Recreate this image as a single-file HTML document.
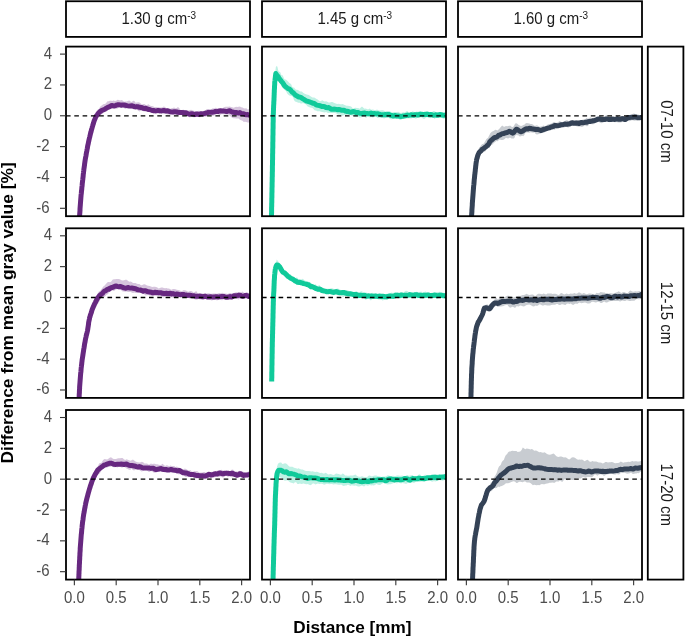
<!DOCTYPE html><html><head><meta charset="utf-8"><style>html,body{margin:0;padding:0;background:#fff;overflow:hidden}</style></head><body><svg width="685" height="637" viewBox="0 0 685 637" style="display:block;will-change:transform;font-family:'Liberation Sans', sans-serif"><rect width="685" height="637" fill="#fff"/><rect x="66.0" y="1.25" width="184.0" height="35.65" fill="#fff" stroke="#000" stroke-width="1.8"/><rect x="262.0" y="1.25" width="184.0" height="35.65" fill="#fff" stroke="#000" stroke-width="1.8"/><rect x="458.0" y="1.25" width="184.0" height="35.65" fill="#fff" stroke="#000" stroke-width="1.8"/><text x="0" y="0" font-size="15" text-anchor="middle" fill="#1a1a1a" transform="translate(158.80 23.7) scale(1 1.07)">1.30 g cm<tspan font-size="10" dy="-4.3">-3</tspan></text><text x="0" y="0" font-size="15" text-anchor="middle" fill="#1a1a1a" transform="translate(354.80 23.7) scale(1 1.07)">1.45 g cm<tspan font-size="10" dy="-4.3">-3</tspan></text><text x="0" y="0" font-size="15" text-anchor="middle" fill="#1a1a1a" transform="translate(550.80 23.7) scale(1 1.07)">1.60 g cm<tspan font-size="10" dy="-4.3">-3</tspan></text><rect x="647.8" y="46.6" width="35.6" height="169.6" fill="#fff" stroke="#000" stroke-width="1.8"/><text x="0" y="0" font-size="15" text-anchor="middle" fill="#1a1a1a" transform="translate(660.6 131.4) rotate(90) scale(1 1.07)">07-10 cm</text><rect x="647.8" y="228.3" width="35.6" height="169.6" fill="#fff" stroke="#000" stroke-width="1.8"/><text x="0" y="0" font-size="15" text-anchor="middle" fill="#1a1a1a" transform="translate(660.6 313.1) rotate(90) scale(1 1.07)">12-15 cm</text><rect x="647.8" y="410.0" width="35.6" height="169.6" fill="#fff" stroke="#000" stroke-width="1.8"/><text x="0" y="0" font-size="15" text-anchor="middle" fill="#1a1a1a" transform="translate(660.6 494.8) rotate(90) scale(1 1.07)">17-20 cm</text><rect x="66.0" y="46.6" width="184.0" height="169.6" fill="#fff"/><clipPath id="cp00"><rect x="66.0" y="46.6" width="184.0" height="169.6"/></clipPath><g clip-path="url(#cp00)"><path d="M79.3 215.0 L79.5 213.7 L79.6 212.4 L79.7 211.4 L79.8 210.5 L79.9 209.5 L80.0 208.2 L80.0 206.3 L80.1 204.9 L80.2 203.7 L80.3 202.5 L80.4 201.6 L80.5 200.1 L80.6 198.6 L80.7 197.1 L80.8 195.6 L80.9 193.9 L81.0 192.7 L81.1 192.2 L81.3 191.2 L81.4 189.8 L81.5 187.8 L81.7 186.8 L81.8 185.8 L81.9 183.9 L82.1 182.7 L82.2 181.9 L82.3 180.1 L82.5 178.6 L82.6 177.5 L82.8 175.8 L82.9 174.2 L83.1 173.5 L83.2 172.8 L83.3 171.3 L83.5 169.8 L83.6 169.4 L83.8 167.5 L83.9 165.4 L84.1 164.4 L84.3 163.5 L84.5 162.0 L84.6 160.5 L84.8 159.7 L85.0 158.8 L85.2 157.5 L85.4 155.7 L85.6 154.4 L85.9 152.9 L86.1 151.5 L86.3 150.0 L86.5 148.9 L86.8 148.4 L87.0 146.9 L87.3 144.9 L87.5 143.1 L87.7 141.8 L88.0 141.7 L88.3 140.6 L88.5 138.0 L88.8 136.8 L89.1 136.3 L89.4 134.9 L89.7 133.6 L90.0 132.2 L90.3 130.7 L90.6 129.1 L91.0 127.5 L91.3 127.1 L91.6 125.7 L92.0 123.7 L92.3 122.9 L92.7 122.1 L93.0 121.5 L93.4 119.6 L93.8 117.6 L94.2 117.5 L94.7 116.7 L95.2 114.6 L95.7 112.4 L96.4 111.2 L97.1 110.2 L97.9 109.5 L98.7 109.3 L99.7 107.6 L100.8 106.0 L101.8 105.5 L102.9 104.5 L104.0 104.1 L105.1 104.1 L106.3 102.7 L107.5 101.3 L108.7 101.2 L109.9 100.8 L111.1 100.7 L112.4 100.9 L113.6 100.5 L114.9 101.1 L116.2 100.8 L117.5 99.8 L118.8 99.9 L120.1 100.4 L121.4 99.9 L122.7 100.5 L124.0 101.7 L125.3 101.6 L126.6 101.6 L127.9 101.0 L129.2 100.5 L130.5 101.6 L131.8 102.1 L133.1 100.8 L134.4 101.0 L135.6 102.7 L136.9 102.6 L138.2 102.3 L139.5 102.6 L140.7 103.5 L142.0 104.4 L143.3 104.1 L144.6 103.9 L145.8 105.1 L147.1 104.9 L148.4 104.3 L149.6 105.2 L150.9 105.9 L152.1 106.0 L153.4 106.4 L154.7 107.3 L156.0 107.0 L157.3 107.2 L158.6 107.3 L159.9 107.4 L161.2 107.6 L162.5 107.2 L163.8 106.5 L165.1 107.1 L166.4 108.5 L167.7 108.5 L169.0 108.6 L170.3 108.7 L171.5 108.3 L172.8 107.9 L174.1 107.5 L175.4 108.3 L176.7 108.0 L178.0 107.1 L179.3 108.3 L180.6 110.2 L181.9 110.3 L183.2 109.4 L184.5 110.5 L185.8 110.6 L187.1 109.9 L188.4 110.5 L189.7 110.3 L191.0 109.7 L192.3 110.3 L193.6 110.8 L194.8 110.9 L196.1 111.4 L197.4 111.2 L198.7 110.7 L200.0 110.9 L201.3 111.8 L202.6 111.2 L203.9 110.8 L205.2 110.8 L206.5 109.2 L207.8 109.0 L209.0 109.9 L210.3 110.3 L211.6 109.1 L212.9 108.3 L214.2 108.4 L215.4 107.8 L216.7 107.9 L218.0 108.2 L219.3 108.3 L220.6 109.1 L221.9 109.1 L223.2 107.7 L224.5 107.1 L225.8 106.8 L227.1 106.8 L228.4 106.8 L229.7 106.5 L231.0 106.9 L232.2 107.3 L233.5 107.7 L234.8 107.3 L236.1 106.8 L237.4 107.1 L238.6 106.7 L239.9 106.6 L241.2 107.3 L242.5 107.6 L243.8 108.3 L245.0 108.6 L246.3 108.3 L247.6 109.4 L248.8 109.3 L250.1 109.1 L251.4 109.5 L252.0 109.5 L252.0 122.1 L251.4 122.4 L250.1 122.4 L248.8 122.4 L247.6 122.4 L246.3 122.0 L245.0 121.7 L243.8 122.0 L242.5 120.7 L241.2 120.2 L239.9 119.7 L238.6 118.6 L237.4 118.4 L236.1 118.5 L234.8 118.2 L233.5 118.2 L232.2 117.8 L231.0 116.7 L229.7 115.7 L228.4 114.6 L227.1 114.8 L225.8 114.4 L224.5 114.2 L223.2 114.3 L221.9 114.0 L220.6 114.8 L219.3 115.1 L218.0 114.3 L216.7 114.1 L215.4 115.0 L214.2 115.4 L212.9 115.9 L211.6 115.5 L210.3 114.9 L209.0 115.0 L207.8 115.4 L206.5 116.4 L205.2 116.8 L203.9 116.3 L202.6 115.9 L201.3 116.8 L200.0 117.2 L198.7 117.1 L197.4 116.9 L196.1 116.9 L194.8 117.3 L193.6 117.3 L192.3 117.1 L191.0 116.9 L189.7 117.5 L188.4 116.6 L187.1 115.4 L185.8 115.5 L184.5 115.9 L183.2 116.2 L181.9 115.2 L180.6 114.2 L179.3 114.8 L178.0 115.7 L176.7 114.9 L175.4 114.3 L174.1 114.6 L172.8 114.5 L171.5 114.7 L170.3 114.8 L169.0 114.5 L167.7 114.5 L166.4 114.1 L165.1 114.1 L163.8 113.3 L162.5 112.5 L161.2 113.6 L159.9 114.0 L158.6 113.4 L157.3 113.2 L156.0 112.9 L154.7 113.0 L153.4 113.8 L152.1 113.1 L150.9 112.3 L149.6 112.0 L148.4 111.2 L147.1 111.5 L145.8 111.8 L144.6 111.5 L143.3 111.2 L142.0 110.7 L140.7 110.8 L139.5 111.4 L138.2 110.7 L136.9 109.5 L135.6 108.9 L134.4 109.6 L133.1 109.3 L131.8 108.3 L130.5 108.3 L129.2 107.8 L127.9 107.6 L126.6 107.9 L125.3 108.9 L124.0 108.1 L122.7 106.9 L121.4 106.8 L120.1 106.9 L118.8 107.7 L117.5 108.6 L116.2 108.7 L114.9 107.8 L113.6 108.1 L112.4 108.5 L111.1 108.5 L109.9 109.5 L108.7 109.3 L107.5 110.2 L106.3 111.7 L105.1 111.1 L104.0 111.6 L102.9 113.3 L101.8 114.5 L100.8 114.2 L99.7 114.6 L98.7 116.5 L97.9 118.0 L97.1 118.4 L96.4 119.3 L95.7 120.6 L95.2 121.7 L94.7 122.7 L94.2 123.7 L93.8 124.9 L93.4 126.8 L93.0 128.1 L92.7 129.3 L92.3 131.0 L92.0 131.5 L91.6 132.4 L91.3 133.6 L91.0 135.1 L90.6 137.1 L90.3 137.4 L90.0 138.4 L89.7 139.9 L89.4 141.1 L89.1 142.8 L88.8 143.9 L88.5 145.0 L88.3 146.0 L88.0 147.3 L87.7 149.3 L87.5 150.8 L87.3 151.3 L87.0 151.7 L86.8 153.2 L86.5 155.1 L86.3 156.6 L86.1 157.7 L85.9 157.8 L85.6 159.9 L85.4 162.6 L85.2 162.9 L85.0 163.6 L84.8 165.1 L84.6 166.2 L84.5 167.3 L84.3 167.9 L84.1 169.8 L83.9 172.4 L83.8 173.6 L83.6 174.5 L83.5 175.7 L83.3 176.8 L83.2 178.8 L83.1 180.7 L82.9 181.0 L82.8 181.8 L82.6 183.4 L82.5 184.9 L82.3 186.3 L82.2 187.2 L82.1 188.4 L81.9 190.2 L81.8 191.3 L81.7 192.7 L81.5 193.8 L81.4 194.5 L81.3 195.8 L81.1 197.3 L81.0 198.3 L80.9 199.4 L80.8 200.8 L80.7 202.0 L80.6 203.8 L80.5 204.9 L80.4 205.8 L80.3 206.5 L80.2 208.3 L80.1 210.4 L80.0 211.4 L80.0 213.3 L79.9 214.7 L79.8 215.0 L79.7 216.0 L79.6 218.4 L79.5 220.5 L79.3 221.0Z" fill="#672880" fill-opacity="0.27"/><path d="M79.3 218.1 L79.5 216.9 L79.6 215.6 L79.7 214.3 L79.8 213.0 L79.9 211.7 L80.0 210.4 L80.0 209.1 L80.1 207.8 L80.2 206.5 L80.3 205.2 L80.4 203.9 L80.5 202.6 L80.6 201.3 L80.7 200.0 L80.8 198.7 L80.9 197.4 L81.0 196.2 L81.1 194.9 L81.3 193.5 L81.4 192.3 L81.5 191.0 L81.7 189.7 L81.8 188.4 L81.9 187.1 L82.1 185.8 L82.2 184.5 L82.3 183.2 L82.5 181.9 L82.6 180.7 L82.8 179.3 L82.9 178.1 L83.1 176.7 L83.2 175.4 L83.3 174.1 L83.5 172.8 L83.6 171.5 L83.8 170.3 L83.9 169.1 L84.1 167.8 L84.3 166.4 L84.5 165.2 L84.6 163.9 L84.8 162.6 L85.0 161.2 L85.2 159.9 L85.4 158.7 L85.6 157.5 L85.9 156.2 L86.1 154.9 L86.3 153.6 L86.5 152.4 L86.8 151.0 L87.0 149.8 L87.3 148.5 L87.5 147.2 L87.7 145.8 L88.0 144.6 L88.3 143.4 L88.5 142.2 L88.8 140.9 L89.1 139.5 L89.4 138.2 L89.7 137.1 L90.0 135.8 L90.3 134.4 L90.6 133.1 L91.0 131.9 L91.3 130.7 L91.6 129.4 L92.0 128.2 L92.3 127.0 L92.7 125.7 L93.0 124.6 L93.4 123.4 L93.8 122.1 L94.2 120.8 L94.7 119.6 L95.2 118.4 L95.7 117.0 L96.4 115.9 L97.1 115.1 L97.9 114.1 L98.7 112.9 L99.7 111.9 L100.8 111.2 L101.8 110.4 L102.9 110.0 L104.0 109.7 L105.1 109.0 L106.3 108.2 L107.5 107.6 L108.7 107.0 L109.9 106.4 L111.1 105.8 L112.4 105.5 L113.6 105.9 L114.9 105.9 L116.2 105.2 L117.5 104.8 L118.8 104.7 L120.1 104.9 L121.4 105.2 L122.7 104.9 L124.0 105.0 L125.3 105.3 L126.6 105.6 L127.9 105.9 L129.2 106.1 L130.5 106.1 L131.8 105.8 L133.1 106.1 L134.4 106.6 L135.6 106.9 L136.9 106.6 L138.2 106.8 L139.5 107.3 L140.7 107.5 L142.0 107.6 L143.3 108.3 L144.6 108.6 L145.8 108.3 L147.1 108.8 L148.4 109.4 L149.6 109.5 L150.9 110.0 L152.1 110.4 L153.4 110.5 L154.7 110.8 L156.0 110.9 L157.3 110.6 L158.6 110.6 L159.9 110.7 L161.2 110.9 L162.5 110.8 L163.8 110.4 L165.1 110.8 L166.4 111.1 L167.7 110.8 L169.0 111.3 L170.3 111.7 L171.5 111.9 L172.8 112.1 L174.1 111.8 L175.4 111.8 L176.7 112.0 L178.0 112.3 L179.3 112.4 L180.6 112.5 L181.9 112.4 L183.2 112.6 L184.5 112.7 L185.8 112.8 L187.1 113.5 L188.4 113.9 L189.7 114.2 L191.0 113.8 L192.3 113.7 L193.6 114.4 L194.8 114.6 L196.1 114.1 L197.4 114.0 L198.7 114.6 L200.0 114.1 L201.3 113.7 L202.6 114.1 L203.9 113.7 L205.2 113.3 L206.5 113.0 L207.8 112.5 L209.0 112.3 L210.3 112.3 L211.6 112.2 L212.9 112.2 L214.2 111.8 L215.4 111.4 L216.7 111.6 L218.0 111.6 L219.3 110.9 L220.6 110.8 L221.9 111.0 L223.2 110.9 L224.5 111.1 L225.8 111.4 L227.1 111.5 L228.4 111.0 L229.7 110.8 L231.0 111.5 L232.2 112.0 L233.5 112.3 L234.8 112.6 L236.1 112.5 L237.4 112.9 L238.6 113.1 L239.9 112.6 L241.2 113.5 L242.5 113.8 L243.8 113.7 L245.0 114.6 L246.3 114.8 L247.6 114.5 L248.8 115.0 L250.1 115.3 L251.4 114.9 L252.0 115.2" fill="none" stroke="#672880" stroke-width="5.0" stroke-linejoin="round" stroke-linecap="butt"/><line x1="66.0" x2="250.0" y1="115.78" y2="115.78" stroke="#000" stroke-width="1.3" stroke-dasharray="4.6 3.7"/></g><rect x="66.0" y="46.6" width="184.0" height="169.6" fill="none" stroke="#000" stroke-width="1.8"/><rect x="262.0" y="46.6" width="184.0" height="169.6" fill="#fff"/><clipPath id="cp01"><rect x="262.0" y="46.6" width="184.0" height="169.6"/></clipPath><g clip-path="url(#cp01)"><path d="M271.5 215.7 L271.5 214.2 L271.5 212.8 L271.5 211.9 L271.6 210.6 L271.6 208.5 L271.6 207.3 L271.6 206.6 L271.6 204.7 L271.7 203.8 L271.7 202.8 L271.7 201.2 L271.8 199.1 L271.8 198.2 L271.8 197.6 L271.8 195.7 L271.9 194.5 L271.9 192.8 L271.9 191.3 L271.9 190.8 L272.0 189.1 L272.0 187.1 L272.0 186.5 L272.0 185.4 L272.1 183.4 L272.1 182.5 L272.1 181.8 L272.1 180.1 L272.2 178.2 L272.2 177.7 L272.2 176.8 L272.2 174.4 L272.3 173.2 L272.3 173.4 L272.3 172.0 L272.3 169.8 L272.4 168.1 L272.4 167.0 L272.4 165.2 L272.4 163.9 L272.4 163.3 L272.5 161.4 L272.5 160.1 L272.5 160.2 L272.5 158.7 L272.6 156.3 L272.6 155.6 L272.6 153.9 L272.6 151.9 L272.6 151.3 L272.7 151.0 L272.7 150.2 L272.7 148.4 L272.7 146.6 L272.8 145.3 L272.8 144.8 L272.8 143.4 L272.8 141.6 L272.8 140.4 L272.9 137.7 L272.9 136.3 L272.9 135.5 L272.9 134.0 L272.9 132.8 L273.0 131.6 L273.0 130.6 L273.0 129.0 L273.0 128.1 L273.0 127.5 L273.1 125.5 L273.1 123.9 L273.1 122.0 L273.1 120.7 L273.1 120.2 L273.2 118.8 L273.2 118.1 L273.2 116.3 L273.2 114.6 L273.3 113.6 L273.3 112.5 L273.3 112.0 L273.4 110.4 L273.4 108.6 L273.5 107.1 L273.5 105.9 L273.6 103.8 L273.6 102.2 L273.7 102.4 L273.8 101.2 L273.8 98.9 L273.9 97.5 L274.0 97.1 L274.0 96.1 L274.1 94.1 L274.1 92.0 L274.2 91.3 L274.2 90.0 L274.3 88.7 L274.3 87.1 L274.4 85.6 L274.5 85.6 L274.5 84.3 L274.6 82.3 L274.7 80.4 L274.7 78.4 L274.8 76.8 L275.0 76.0 L275.1 74.5 L275.3 72.5 L275.4 70.6 L275.6 68.9 L275.8 67.3 L276.8 65.7 L277.5 67.0 L278.2 70.3 L278.9 71.8 L279.6 71.8 L280.4 72.6 L281.1 74.5 L281.9 75.4 L282.7 75.2 L283.5 77.3 L284.4 79.2 L285.3 79.4 L286.2 79.8 L287.2 80.8 L288.3 81.7 L289.3 83.0 L290.3 83.6 L291.3 84.5 L292.2 86.8 L293.1 87.4 L294.0 87.5 L295.0 88.8 L296.0 89.7 L297.2 89.8 L298.4 90.3 L299.6 91.3 L300.7 91.4 L301.9 91.5 L303.1 92.8 L304.2 93.6 L305.4 94.1 L306.6 94.6 L307.7 94.7 L308.9 95.0 L310.1 95.9 L311.3 96.7 L312.5 97.4 L313.7 97.6 L314.9 97.7 L316.1 98.7 L317.3 99.2 L318.5 100.2 L319.8 101.2 L321.0 100.9 L322.3 100.3 L323.5 100.9 L324.8 101.6 L326.1 101.2 L327.3 101.8 L328.6 102.4 L329.9 102.6 L331.2 102.1 L332.5 102.0 L333.8 102.8 L335.1 103.3 L336.3 103.8 L337.6 103.9 L338.9 103.8 L340.2 104.3 L341.5 104.3 L342.8 104.0 L344.0 104.7 L345.3 105.3 L346.6 105.8 L347.9 105.7 L349.2 106.1 L350.4 106.3 L351.7 107.1 L353.0 108.7 L354.3 108.1 L355.6 107.7 L356.9 108.0 L358.2 108.1 L359.5 108.7 L360.8 107.4 L362.0 106.6 L363.3 107.7 L364.6 108.7 L365.9 108.5 L367.2 109.3 L368.5 109.2 L369.8 108.6 L371.1 109.7 L372.4 109.6 L373.7 109.7 L375.0 110.2 L376.3 109.8 L377.6 109.7 L378.9 110.6 L380.2 110.6 L381.5 110.2 L382.8 110.2 L384.1 110.7 L385.4 111.5 L386.7 111.0 L388.0 110.9 L389.3 111.1 L390.6 111.7 L391.9 112.6 L393.1 112.2 L394.4 111.9 L395.7 112.1 L397.0 112.0 L398.3 111.8 L399.6 112.6 L400.9 113.1 L402.2 112.5 L403.5 112.3 L404.8 112.5 L406.1 111.6 L407.4 111.0 L408.6 112.4 L409.9 113.1 L411.2 112.4 L412.5 111.3 L413.8 111.8 L415.1 112.2 L416.4 111.4 L417.7 111.8 L419.0 111.5 L420.3 111.4 L421.6 112.3 L422.9 112.7 L424.2 111.5 L425.5 111.3 L426.8 111.3 L428.1 111.0 L429.4 112.3 L430.7 113.0 L432.0 112.2 L433.3 110.9 L434.6 111.2 L435.9 112.0 L437.2 112.1 L438.5 112.1 L439.8 112.0 L441.1 112.2 L442.4 112.4 L443.7 112.5 L445.0 112.5 L446.3 112.8 L447.6 112.8 L448.0 112.0 L448.0 118.7 L447.6 119.2 L446.3 118.4 L445.0 118.5 L443.7 118.8 L442.4 118.2 L441.1 117.7 L439.8 117.7 L438.5 117.9 L437.2 117.3 L435.9 117.8 L434.6 119.0 L433.3 117.6 L432.0 117.5 L430.7 118.3 L429.4 117.7 L428.1 117.4 L426.8 117.2 L425.5 118.1 L424.2 118.9 L422.9 118.4 L421.6 117.6 L420.3 117.5 L419.0 117.4 L417.7 117.4 L416.4 118.4 L415.1 118.5 L413.8 117.5 L412.5 118.0 L411.2 118.6 L409.9 118.4 L408.6 118.6 L407.4 118.4 L406.1 118.4 L404.8 118.8 L403.5 119.1 L402.2 119.0 L400.9 120.0 L399.6 119.7 L398.3 118.6 L397.0 118.9 L395.7 119.0 L394.4 119.1 L393.1 118.8 L391.9 119.2 L390.6 119.3 L389.3 118.3 L388.0 117.7 L386.7 117.5 L385.4 118.1 L384.1 118.5 L382.8 118.0 L381.5 118.0 L380.2 117.5 L378.9 117.8 L377.6 118.0 L376.3 117.1 L375.0 116.7 L373.7 117.3 L372.4 117.5 L371.1 117.1 L369.8 117.6 L368.5 116.6 L367.2 117.0 L365.9 117.9 L364.6 116.5 L363.3 116.7 L362.0 117.0 L360.8 117.6 L359.5 117.5 L358.2 116.9 L356.9 116.8 L355.6 116.7 L354.3 116.6 L353.0 116.1 L351.7 115.5 L350.4 115.1 L349.2 115.0 L347.9 115.2 L346.6 115.5 L345.3 115.2 L344.0 114.9 L342.8 115.7 L341.5 115.5 L340.2 114.5 L338.9 114.8 L337.6 114.2 L336.3 113.5 L335.1 113.1 L333.8 113.0 L332.5 112.9 L331.2 113.1 L329.9 112.7 L328.6 113.1 L327.3 112.8 L326.1 112.1 L324.8 112.6 L323.5 112.2 L322.3 111.9 L321.0 111.8 L319.8 111.3 L318.5 111.2 L317.3 111.2 L316.1 110.6 L314.9 110.6 L313.7 109.2 L312.5 107.9 L311.3 107.8 L310.1 107.4 L308.9 107.1 L307.7 106.6 L306.6 105.3 L305.4 104.1 L304.2 103.7 L303.1 103.1 L301.9 103.4 L300.7 103.4 L299.6 102.8 L298.4 102.7 L297.2 102.3 L296.0 101.7 L295.0 101.4 L294.0 100.0 L293.1 97.6 L292.2 96.2 L291.3 95.9 L290.3 95.8 L289.3 95.4 L288.3 94.7 L287.2 93.4 L286.2 91.5 L285.3 90.6 L284.4 89.8 L283.5 88.5 L282.7 87.9 L281.9 86.9 L281.1 85.5 L280.4 83.5 L279.6 82.5 L278.9 82.6 L278.2 80.7 L277.5 78.7 L276.8 77.5 L275.8 76.3 L275.6 77.9 L275.4 79.5 L275.3 80.4 L275.1 81.5 L275.0 83.3 L274.8 85.2 L274.7 86.3 L274.7 88.1 L274.6 89.4 L274.5 90.2 L274.5 90.9 L274.4 91.9 L274.3 94.1 L274.3 95.2 L274.2 96.4 L274.2 97.7 L274.1 98.1 L274.1 99.9 L274.0 101.6 L274.0 101.9 L273.9 102.5 L273.8 104.3 L273.8 105.8 L273.7 106.6 L273.6 107.6 L273.6 109.1 L273.5 111.1 L273.5 112.3 L273.4 113.1 L273.4 115.1 L273.3 116.3 L273.3 117.8 L273.3 119.3 L273.2 120.6 L273.2 122.2 L273.2 123.2 L273.2 124.8 L273.1 126.0 L273.1 127.1 L273.1 128.1 L273.1 129.2 L273.1 131.0 L273.0 132.4 L273.0 134.2 L273.0 136.4 L273.0 137.3 L273.0 137.9 L272.9 139.1 L272.9 140.4 L272.9 141.9 L272.9 143.6 L272.9 144.7 L272.8 144.8 L272.8 146.0 L272.8 147.8 L272.8 149.4 L272.8 150.4 L272.7 150.7 L272.7 152.7 L272.7 154.5 L272.7 155.2 L272.6 156.2 L272.6 158.2 L272.6 160.1 L272.6 161.2 L272.6 162.2 L272.5 162.9 L272.5 162.8 L272.5 164.5 L272.5 167.5 L272.4 169.0 L272.4 170.1 L272.4 172.1 L272.4 174.0 L272.4 174.0 L272.3 174.2 L272.3 176.3 L272.3 178.9 L272.3 180.0 L272.2 180.7 L272.2 181.7 L272.2 182.7 L272.2 183.9 L272.1 185.7 L272.1 187.6 L272.1 188.6 L272.1 190.2 L272.0 191.7 L272.0 191.9 L272.0 192.8 L272.0 195.5 L271.9 196.3 L271.9 196.9 L271.9 199.2 L271.9 200.8 L271.8 201.6 L271.8 202.9 L271.8 204.7 L271.8 205.9 L271.7 207.2 L271.7 208.4 L271.7 208.4 L271.6 209.2 L271.6 211.7 L271.6 213.7 L271.6 213.9 L271.6 215.4 L271.5 217.8 L271.5 218.0 L271.5 218.9 L271.5 220.7Z" fill="#10CA9A" fill-opacity="0.27"/><path d="M271.5 218.0 L271.5 216.7 L271.5 215.4 L271.5 214.1 L271.6 212.8 L271.6 211.5 L271.6 210.2 L271.6 208.9 L271.6 207.6 L271.7 206.3 L271.7 205.0 L271.7 203.7 L271.8 202.4 L271.8 201.1 L271.8 199.8 L271.8 198.5 L271.9 197.2 L271.9 195.9 L271.9 194.6 L271.9 193.3 L272.0 192.0 L272.0 190.7 L272.0 189.4 L272.0 188.1 L272.1 186.8 L272.1 185.5 L272.1 184.2 L272.1 182.9 L272.2 181.6 L272.2 180.3 L272.2 179.0 L272.2 177.7 L272.3 176.4 L272.3 175.1 L272.3 173.8 L272.3 172.5 L272.4 171.2 L272.4 169.9 L272.4 168.6 L272.4 167.3 L272.4 166.0 L272.5 164.7 L272.5 163.4 L272.5 162.1 L272.5 160.8 L272.6 159.5 L272.6 158.2 L272.6 156.9 L272.6 155.6 L272.6 154.3 L272.7 153.0 L272.7 151.7 L272.7 150.4 L272.7 149.1 L272.8 147.8 L272.8 146.5 L272.8 145.2 L272.8 143.9 L272.8 142.6 L272.9 141.3 L272.9 140.0 L272.9 138.7 L272.9 137.4 L272.9 136.1 L273.0 134.8 L273.0 133.5 L273.0 132.2 L273.0 130.9 L273.0 129.6 L273.1 128.3 L273.1 127.0 L273.1 125.7 L273.1 124.4 L273.1 123.1 L273.2 121.8 L273.2 120.5 L273.2 119.2 L273.2 117.9 L273.3 116.6 L273.3 115.3 L273.3 114.0 L273.4 112.7 L273.4 111.4 L273.5 110.1 L273.5 108.8 L273.6 107.5 L273.6 106.2 L273.7 104.9 L273.8 103.6 L273.8 102.3 L273.9 101.0 L274.0 99.7 L274.0 98.4 L274.1 97.1 L274.1 95.9 L274.2 94.6 L274.2 93.2 L274.3 92.0 L274.3 90.7 L274.4 89.3 L274.5 88.0 L274.5 86.8 L274.6 85.4 L274.7 84.1 L274.7 82.8 L274.8 81.6 L275.0 80.3 L275.1 78.9 L275.3 77.7 L275.4 76.5 L275.6 75.1 L275.8 73.6 L276.8 75.0 L277.5 75.9 L278.2 76.7 L278.9 78.0 L279.6 79.1 L280.4 79.9 L281.1 81.0 L281.9 81.9 L282.7 82.7 L283.5 84.0 L284.4 85.6 L285.3 86.5 L286.2 87.1 L287.2 87.9 L288.3 88.7 L289.3 89.0 L290.3 89.7 L291.3 91.0 L292.2 92.1 L293.1 92.7 L294.0 93.4 L295.0 94.7 L296.0 95.4 L297.2 96.0 L298.4 96.9 L299.6 97.0 L300.7 97.4 L301.9 98.2 L303.1 99.0 L304.2 99.5 L305.4 100.4 L306.6 101.1 L307.7 101.3 L308.9 101.7 L310.1 102.1 L311.3 102.5 L312.5 103.2 L313.7 103.3 L314.9 103.8 L316.1 104.8 L317.3 105.2 L318.5 105.4 L319.8 105.7 L321.0 106.1 L322.3 106.6 L323.5 106.5 L324.8 106.7 L326.1 107.6 L327.3 107.7 L328.6 107.6 L329.9 108.2 L331.2 109.2 L332.5 109.3 L333.8 109.1 L335.1 109.2 L336.3 109.4 L337.6 109.7 L338.9 109.5 L340.2 109.7 L341.5 110.3 L342.8 110.3 L344.0 110.3 L345.3 111.0 L346.6 111.4 L347.9 111.3 L349.2 111.8 L350.4 112.3 L351.7 112.0 L353.0 111.6 L354.3 111.7 L355.6 112.4 L356.9 112.5 L358.2 112.6 L359.5 113.2 L360.8 113.4 L362.0 113.5 L363.3 113.1 L364.6 112.9 L365.9 113.6 L367.2 113.5 L368.5 113.7 L369.8 113.6 L371.1 113.1 L372.4 113.9 L373.7 113.6 L375.0 113.6 L376.3 113.9 L377.6 113.7 L378.9 114.1 L380.2 114.5 L381.5 114.7 L382.8 114.8 L384.1 114.7 L385.4 114.5 L386.7 114.7 L388.0 114.5 L389.3 114.6 L390.6 115.3 L391.9 115.5 L393.1 116.0 L394.4 115.6 L395.7 115.6 L397.0 116.0 L398.3 115.9 L399.6 116.3 L400.9 116.4 L402.2 116.3 L403.5 116.0 L404.8 115.8 L406.1 115.5 L407.4 115.1 L408.6 115.4 L409.9 115.1 L411.2 114.8 L412.5 115.1 L413.8 115.2 L415.1 114.7 L416.4 114.7 L417.7 115.1 L419.0 114.8 L420.3 114.1 L421.6 114.3 L422.9 114.5 L424.2 114.4 L425.5 114.4 L426.8 114.3 L428.1 114.5 L429.4 114.7 L430.7 114.5 L432.0 114.7 L433.3 115.3 L434.6 115.1 L435.9 114.8 L437.2 115.3 L438.5 115.0 L439.8 114.4 L441.1 114.7 L442.4 115.0 L443.7 115.2 L445.0 115.3 L446.3 114.8 L447.6 115.0 L448.0 115.7" fill="none" stroke="#10CA9A" stroke-width="5.0" stroke-linejoin="round" stroke-linecap="butt"/><line x1="262.0" x2="446.0" y1="115.78" y2="115.78" stroke="#000" stroke-width="1.3" stroke-dasharray="4.6 3.7"/></g><rect x="262.0" y="46.6" width="184.0" height="169.6" fill="none" stroke="#000" stroke-width="1.8"/><rect x="458.0" y="46.6" width="184.0" height="169.6" fill="#fff"/><clipPath id="cp02"><rect x="458.0" y="46.6" width="184.0" height="169.6"/></clipPath><g clip-path="url(#cp02)"><path d="M471.5 214.9 L471.6 213.8 L471.6 212.5 L471.7 211.8 L471.8 210.7 L471.9 208.9 L471.9 207.3 L472.0 205.8 L472.1 205.4 L472.2 203.7 L472.3 202.3 L472.3 201.8 L472.4 200.6 L472.5 199.2 L472.6 197.8 L472.7 196.4 L472.8 194.4 L472.9 192.5 L473.0 191.0 L473.1 189.3 L473.2 188.3 L473.3 187.8 L473.4 187.2 L473.5 186.1 L473.6 184.3 L473.7 182.2 L473.9 181.2 L474.0 179.8 L474.1 177.6 L474.2 177.0 L474.3 176.5 L474.5 175.1 L474.6 174.0 L474.7 173.1 L474.9 171.7 L475.0 169.8 L475.2 169.2 L475.3 167.8 L475.4 164.9 L475.6 163.4 L475.7 162.1 L475.9 161.9 L476.0 161.7 L476.2 159.1 L476.4 157.1 L476.6 155.8 L476.9 154.5 L477.3 153.3 L477.6 152.3 L478.1 151.4 L478.6 149.1 L479.3 147.4 L480.3 146.4 L481.3 144.9 L482.3 143.9 L483.3 143.9 L484.2 142.8 L485.2 141.2 L486.2 139.2 L487.1 138.5 L488.1 137.7 L488.9 136.0 L489.6 134.7 L490.3 133.2 L491.0 132.5 L491.9 131.7 L492.9 131.3 L494.0 130.7 L495.2 129.7 L496.3 130.0 L497.5 130.4 L498.6 129.5 L499.8 128.2 L501.0 126.8 L502.2 125.5 L503.4 126.5 L504.7 126.7 L505.9 126.1 L507.1 126.2 L508.2 126.1 L509.4 125.8 L510.5 125.8 L511.5 126.8 L512.7 127.1 L513.8 126.2 L514.5 124.7 L515.3 123.4 L516.3 123.2 L517.6 123.9 L518.6 125.0 L519.7 125.5 L520.9 126.0 L522.1 125.8 L523.2 125.0 L524.3 124.7 L525.5 123.5 L526.8 123.0 L528.0 123.3 L529.3 123.6 L530.6 124.0 L531.9 124.0 L533.2 124.7 L534.4 125.7 L535.7 125.7 L536.9 125.2 L538.2 126.1 L539.5 126.8 L540.8 126.6 L542.1 126.3 L543.3 125.6 L544.5 125.9 L545.7 126.1 L547.0 125.1 L548.2 124.3 L549.5 124.1 L550.7 123.7 L552.0 123.3 L553.3 122.3 L554.5 122.1 L555.8 122.7 L557.1 122.7 L558.3 121.9 L559.6 121.1 L560.9 121.7 L562.2 122.3 L563.5 122.2 L564.7 121.2 L566.0 120.2 L567.3 120.2 L568.6 121.2 L569.9 121.7 L571.2 120.7 L572.5 120.1 L573.8 120.1 L575.1 120.2 L576.4 120.3 L577.7 120.1 L579.0 119.9 L580.3 120.5 L581.5 120.6 L582.8 119.6 L584.1 119.4 L585.4 119.1 L586.7 118.1 L588.0 118.7 L589.3 117.9 L590.6 117.3 L591.8 118.5 L593.1 117.8 L594.4 117.9 L595.6 117.6 L596.7 116.5 L598.0 116.5 L599.3 116.2 L600.6 116.2 L601.9 116.3 L603.2 116.7 L604.5 116.5 L605.8 115.5 L607.1 115.0 L608.4 115.7 L609.7 116.2 L611.0 116.1 L612.3 115.9 L613.6 116.5 L614.9 117.1 L616.2 116.6 L617.5 115.7 L618.8 116.4 L620.1 116.7 L621.4 116.0 L622.7 116.0 L624.0 116.0 L625.3 116.6 L626.5 115.6 L627.8 115.2 L629.1 115.3 L630.3 115.1 L631.6 114.8 L632.9 113.7 L634.2 113.6 L635.5 114.4 L636.8 114.7 L638.1 114.4 L639.4 115.1 L640.7 115.1 L642.0 114.4 L643.3 114.6 L644.0 114.4 L644.0 120.3 L643.3 119.7 L642.0 119.6 L640.7 119.8 L639.4 119.3 L638.1 120.0 L636.8 120.8 L635.5 120.6 L634.2 120.8 L632.9 120.2 L631.6 120.3 L630.3 120.9 L629.1 121.2 L627.8 120.6 L626.5 120.4 L625.3 121.6 L624.0 122.0 L622.7 121.7 L621.4 122.2 L620.1 122.5 L618.8 122.5 L617.5 122.2 L616.2 122.0 L614.9 122.3 L613.6 121.7 L612.3 121.7 L611.0 121.7 L609.7 122.2 L608.4 121.6 L607.1 121.1 L605.8 121.9 L604.5 121.7 L603.2 122.5 L601.9 123.3 L600.6 122.9 L599.3 122.3 L598.0 121.8 L596.7 121.8 L595.6 122.8 L594.4 123.9 L593.1 124.2 L591.8 124.2 L590.6 123.4 L589.3 123.7 L588.0 126.0 L586.7 126.2 L585.4 125.5 L584.1 125.7 L582.8 126.7 L581.5 126.9 L580.3 126.4 L579.0 126.8 L577.7 126.5 L576.4 126.3 L575.1 125.3 L573.8 125.0 L572.5 126.0 L571.2 126.1 L569.9 126.7 L568.6 127.5 L567.3 127.3 L566.0 126.6 L564.7 127.2 L563.5 127.4 L562.2 126.9 L560.9 127.6 L559.6 127.1 L558.3 127.3 L557.1 128.5 L555.8 129.1 L554.5 129.7 L553.3 129.6 L552.0 129.6 L550.7 129.8 L549.5 130.0 L548.2 130.6 L547.0 130.9 L545.7 131.3 L544.5 132.6 L543.3 133.0 L542.1 132.8 L540.8 133.4 L539.5 133.8 L538.2 134.3 L536.9 134.6 L535.7 133.9 L534.4 132.3 L533.2 132.7 L531.9 132.6 L530.6 132.3 L529.3 132.7 L528.0 132.4 L526.8 132.5 L525.5 132.7 L524.3 134.9 L523.2 136.3 L522.1 135.8 L520.9 136.3 L519.7 136.4 L518.6 135.4 L517.6 135.3 L516.3 134.9 L515.3 135.6 L514.5 137.8 L513.8 138.5 L512.7 138.6 L511.5 138.4 L510.5 137.8 L509.4 137.8 L508.2 138.5 L507.1 138.3 L505.9 137.8 L504.7 139.0 L503.4 139.7 L502.2 139.9 L501.0 139.9 L499.8 139.5 L498.6 140.3 L497.5 141.2 L496.3 141.1 L495.2 141.9 L494.0 142.7 L492.9 143.9 L491.9 145.0 L491.0 144.4 L490.3 146.1 L489.6 147.9 L488.9 148.0 L488.1 148.5 L487.1 148.9 L486.2 149.8 L485.2 151.5 L484.2 151.8 L483.3 152.3 L482.3 153.0 L481.3 153.5 L480.3 154.2 L479.3 154.7 L478.6 155.3 L478.1 157.0 L477.6 159.3 L477.3 160.3 L476.9 161.5 L476.6 163.0 L476.4 164.0 L476.2 165.3 L476.0 166.5 L475.9 167.5 L475.7 168.4 L475.6 170.1 L475.4 171.5 L475.3 172.8 L475.2 174.7 L475.0 176.0 L474.9 177.0 L474.7 178.1 L474.6 178.6 L474.5 180.2 L474.3 182.2 L474.2 183.2 L474.1 184.8 L474.0 185.4 L473.9 186.6 L473.7 188.8 L473.6 189.9 L473.5 190.7 L473.4 191.8 L473.3 193.4 L473.2 194.8 L473.1 196.5 L473.0 197.0 L472.9 197.6 L472.8 200.0 L472.7 201.4 L472.6 202.4 L472.5 204.2 L472.4 205.4 L472.3 206.5 L472.3 207.4 L472.2 207.9 L472.1 210.1 L472.0 212.1 L471.9 213.8 L471.9 215.0 L471.8 215.4 L471.7 216.5 L471.6 218.0 L471.6 219.6 L471.5 220.9Z" fill="#344256" fill-opacity="0.27"/><path d="M471.5 218.0 L471.6 216.7 L471.6 215.4 L471.7 214.1 L471.8 212.8 L471.9 211.5 L471.9 210.2 L472.0 208.9 L472.1 207.6 L472.2 206.3 L472.3 205.1 L472.3 203.8 L472.4 202.5 L472.5 201.2 L472.6 199.9 L472.7 198.6 L472.8 197.3 L472.9 196.0 L473.0 194.7 L473.1 193.4 L473.2 192.1 L473.3 190.8 L473.4 189.5 L473.5 188.2 L473.6 186.9 L473.7 185.6 L473.9 184.3 L474.0 183.0 L474.1 181.7 L474.2 180.4 L474.3 179.1 L474.5 177.9 L474.6 176.5 L474.7 175.2 L474.9 173.9 L475.0 172.7 L475.2 171.4 L475.3 170.1 L475.4 168.9 L475.6 167.6 L475.7 166.2 L475.9 164.9 L476.0 163.6 L476.2 162.3 L476.4 161.1 L476.6 159.7 L476.9 158.6 L477.3 157.4 L477.6 156.0 L478.1 154.8 L478.6 153.6 L479.3 152.3 L480.3 151.4 L481.3 150.4 L482.3 149.2 L483.3 148.7 L484.2 148.1 L485.2 147.2 L486.2 146.5 L487.1 145.6 L488.1 144.9 L488.9 143.8 L489.6 142.1 L490.3 141.2 L491.0 140.5 L491.9 139.8 L492.9 138.9 L494.0 137.9 L495.2 137.4 L496.3 137.3 L497.5 136.4 L498.6 135.3 L499.8 135.1 L501.0 134.3 L502.2 133.8 L503.4 133.6 L504.7 133.1 L505.9 132.7 L507.1 132.5 L508.2 131.9 L509.4 131.3 L510.5 131.6 L511.5 132.5 L512.7 133.2 L513.8 132.5 L514.5 131.4 L515.3 130.5 L516.3 129.2 L517.6 129.6 L518.6 130.5 L519.7 131.2 L520.9 131.7 L522.1 131.4 L523.2 130.7 L524.3 129.8 L525.5 129.0 L526.8 128.8 L528.0 128.9 L529.3 128.3 L530.6 128.5 L531.9 128.8 L533.2 128.9 L534.4 129.2 L535.7 129.5 L536.9 129.5 L538.2 129.5 L539.5 130.0 L540.8 130.5 L542.1 130.1 L543.3 129.5 L544.5 129.2 L545.7 128.9 L547.0 128.4 L548.2 128.0 L549.5 127.8 L550.7 127.1 L552.0 126.8 L553.3 126.4 L554.5 125.5 L555.8 125.6 L557.1 125.7 L558.3 125.7 L559.6 125.3 L560.9 124.8 L562.2 124.8 L563.5 124.4 L564.7 124.0 L566.0 124.2 L567.3 124.2 L568.6 123.9 L569.9 123.8 L571.2 123.0 L572.5 122.8 L573.8 123.3 L575.1 123.3 L576.4 122.9 L577.7 123.3 L579.0 123.5 L580.3 122.8 L581.5 122.4 L582.8 122.8 L584.1 122.6 L585.4 122.3 L586.7 122.3 L588.0 121.6 L589.3 121.4 L590.6 121.4 L591.8 121.1 L593.1 120.8 L594.4 120.6 L595.6 120.2 L596.7 119.7 L598.0 119.2 L599.3 118.9 L600.6 119.3 L601.9 119.6 L603.2 119.6 L604.5 119.5 L605.8 119.1 L607.1 119.1 L608.4 119.4 L609.7 119.4 L611.0 119.4 L612.3 119.3 L613.6 119.3 L614.9 119.4 L616.2 119.1 L617.5 118.8 L618.8 119.3 L620.1 119.3 L621.4 118.8 L622.7 118.6 L624.0 119.1 L625.3 119.6 L626.5 118.7 L627.8 117.7 L629.1 117.4 L630.3 117.4 L631.6 117.2 L632.9 117.3 L634.2 117.1 L635.5 117.0 L636.8 117.4 L638.1 117.7 L639.4 117.8 L640.7 117.6 L642.0 117.5 L643.3 117.7 L644.0 117.4" fill="none" stroke="#344256" stroke-width="5.0" stroke-linejoin="round" stroke-linecap="butt"/><line x1="458.0" x2="642.0" y1="115.78" y2="115.78" stroke="#000" stroke-width="1.3" stroke-dasharray="4.6 3.7"/></g><rect x="458.0" y="46.6" width="184.0" height="169.6" fill="none" stroke="#000" stroke-width="1.8"/><rect x="66.0" y="228.3" width="184.0" height="169.6" fill="#fff"/><clipPath id="cp10"><rect x="66.0" y="228.3" width="184.0" height="169.6"/></clipPath><g clip-path="url(#cp10)"><path d="M79.0 396.6 L79.0 396.2 L79.1 395.6 L79.2 393.2 L79.2 391.5 L79.3 391.3 L79.4 390.7 L79.4 388.6 L79.5 387.3 L79.6 385.9 L79.6 384.4 L79.7 382.9 L79.8 382.2 L79.9 381.5 L80.0 379.0 L80.1 378.0 L80.2 377.0 L80.3 375.6 L80.4 374.7 L80.5 372.6 L80.6 370.7 L80.7 369.6 L80.9 369.2 L81.0 368.1 L81.1 366.2 L81.2 364.7 L81.4 363.0 L81.5 363.0 L81.7 362.3 L81.8 360.1 L82.0 358.4 L82.1 357.4 L82.3 356.5 L82.5 355.0 L82.7 353.3 L82.9 351.3 L83.1 350.4 L83.3 349.7 L83.5 348.5 L83.7 346.5 L83.9 345.3 L84.1 344.7 L84.3 342.5 L84.5 341.8 L84.7 341.5 L85.0 339.5 L85.2 338.0 L85.4 336.4 L85.7 335.1 L86.0 334.9 L86.2 333.7 L86.6 332.0 L86.9 331.2 L87.2 329.8 L87.5 327.6 L87.7 327.1 L87.9 326.1 L88.1 324.3 L88.3 322.3 L88.5 320.8 L88.6 320.0 L88.8 319.0 L89.1 317.3 L89.4 315.4 L89.6 315.2 L90.0 313.9 L90.3 311.6 L90.7 310.5 L91.1 309.2 L91.5 307.7 L91.9 307.4 L92.3 306.6 L92.8 304.6 L93.3 303.1 L93.8 302.3 L94.3 301.4 L94.9 300.3 L95.5 299.3 L96.0 297.4 L96.6 295.4 L97.2 294.6 L98.0 293.0 L98.8 291.5 L99.7 291.2 L100.6 290.3 L101.6 289.0 L102.6 287.4 L103.6 286.3 L104.7 285.4 L105.7 284.2 L106.8 283.0 L107.9 282.0 L109.0 282.0 L110.1 282.3 L111.3 281.6 L112.5 279.7 L113.8 279.2 L115.0 279.3 L116.3 279.0 L117.6 279.1 L118.9 279.1 L120.2 279.6 L121.5 280.2 L122.7 280.4 L124.0 280.3 L125.3 279.7 L126.6 279.7 L127.9 280.8 L129.2 281.7 L130.4 281.6 L131.7 281.9 L133.0 282.9 L134.3 283.0 L135.6 283.0 L136.9 283.8 L138.1 283.9 L139.4 283.9 L140.7 284.9 L141.9 285.2 L143.2 284.5 L144.5 284.3 L145.8 284.7 L147.0 285.4 L148.3 285.8 L149.6 286.1 L150.9 286.4 L152.2 286.9 L153.5 286.7 L154.8 286.8 L156.1 286.9 L157.4 287.6 L158.6 288.6 L159.9 288.0 L161.2 287.6 L162.5 287.4 L163.8 288.1 L165.1 288.2 L166.4 287.9 L167.7 288.4 L169.0 288.5 L170.3 289.2 L171.6 289.8 L172.9 289.1 L174.2 289.1 L175.5 289.3 L176.8 289.8 L178.1 290.1 L179.4 290.3 L180.7 291.0 L182.0 291.2 L183.3 290.3 L184.6 290.2 L185.9 290.6 L187.2 291.2 L188.5 291.8 L189.8 291.1 L191.1 291.1 L192.3 291.5 L193.6 292.7 L194.9 291.9 L196.2 291.1 L197.5 293.0 L198.8 293.4 L200.1 293.4 L201.4 293.2 L202.7 293.4 L204.0 293.5 L205.3 293.0 L206.6 293.4 L207.9 293.3 L209.2 293.2 L210.5 293.7 L211.8 293.8 L213.1 293.5 L214.4 293.6 L215.7 293.6 L217.0 293.7 L218.3 293.3 L219.6 293.1 L220.9 293.2 L222.2 292.8 L223.5 293.2 L224.8 293.4 L226.1 293.4 L227.4 294.0 L228.7 293.4 L230.0 292.9 L231.3 293.3 L232.6 293.7 L233.8 293.3 L235.1 292.4 L236.3 292.3 L237.6 292.4 L238.9 292.1 L240.2 292.8 L241.5 292.3 L242.8 291.4 L244.1 293.0 L245.4 292.8 L246.7 291.9 L248.0 292.8 L249.3 293.6 L250.6 293.4 L251.9 293.3 L252.0 293.2 L252.0 298.9 L251.9 299.2 L250.6 298.1 L249.3 298.1 L248.0 298.9 L246.7 298.5 L245.4 298.2 L244.1 298.1 L242.8 298.8 L241.5 298.4 L240.2 298.2 L238.9 299.6 L237.6 299.3 L236.3 298.3 L235.1 298.1 L233.8 298.8 L232.6 299.6 L231.3 299.5 L230.0 299.6 L228.7 299.1 L227.4 299.1 L226.1 299.8 L224.8 298.7 L223.5 299.1 L222.2 300.2 L220.9 299.9 L219.6 299.2 L218.3 299.7 L217.0 300.6 L215.7 299.8 L214.4 299.7 L213.1 300.1 L211.8 300.4 L210.5 300.0 L209.2 299.3 L207.9 299.2 L206.6 299.2 L205.3 299.0 L204.0 299.7 L202.7 299.4 L201.4 299.6 L200.1 299.6 L198.8 298.9 L197.5 299.5 L196.2 299.7 L194.9 299.5 L193.6 298.2 L192.3 297.1 L191.1 297.9 L189.8 298.6 L188.5 298.0 L187.2 297.1 L185.9 297.8 L184.6 297.6 L183.3 296.9 L182.0 296.8 L180.7 297.2 L179.4 297.0 L178.1 296.3 L176.8 297.5 L175.5 298.1 L174.2 297.9 L172.9 297.4 L171.6 297.2 L170.3 297.2 L169.0 297.6 L167.7 297.6 L166.4 296.7 L165.1 296.8 L163.8 297.4 L162.5 297.2 L161.2 296.2 L159.9 295.5 L158.6 296.3 L157.4 296.3 L156.1 296.0 L154.8 295.7 L153.5 295.8 L152.2 296.2 L150.9 295.8 L149.6 295.4 L148.3 295.0 L147.0 295.3 L145.8 295.4 L144.5 294.6 L143.2 293.6 L141.9 293.5 L140.7 292.9 L139.4 292.4 L138.1 292.8 L136.9 293.1 L135.6 293.1 L134.3 292.6 L133.0 293.0 L131.7 292.6 L130.4 291.8 L129.2 291.9 L127.9 292.0 L126.6 291.6 L125.3 291.7 L124.0 291.6 L122.7 291.5 L121.5 290.6 L120.2 289.6 L118.9 289.6 L117.6 289.1 L116.3 289.3 L115.0 290.3 L113.8 291.0 L112.5 290.5 L111.3 291.0 L110.1 291.1 L109.0 292.6 L107.9 294.3 L106.8 294.5 L105.7 295.8 L104.7 296.8 L103.6 297.7 L102.6 297.9 L101.6 297.4 L100.6 298.8 L99.7 301.0 L98.8 302.1 L98.0 303.8 L97.2 304.8 L96.6 305.7 L96.0 306.7 L95.5 307.3 L94.9 308.9 L94.3 309.7 L93.8 311.2 L93.3 312.8 L92.8 312.9 L92.3 313.5 L91.9 314.3 L91.5 315.9 L91.1 316.9 L90.7 317.7 L90.3 318.9 L90.0 320.4 L89.6 321.4 L89.4 321.9 L89.1 323.7 L88.8 325.8 L88.6 326.9 L88.5 327.7 L88.3 329.2 L88.1 330.0 L87.9 331.2 L87.7 333.0 L87.5 333.4 L87.2 334.8 L86.9 336.9 L86.6 337.7 L86.2 339.2 L86.0 340.1 L85.7 340.7 L85.4 343.5 L85.2 344.6 L85.0 344.9 L84.7 346.7 L84.5 348.2 L84.3 349.9 L84.1 351.5 L83.9 352.9 L83.7 353.6 L83.5 354.1 L83.3 355.1 L83.1 356.2 L82.9 358.6 L82.7 359.5 L82.5 360.6 L82.3 363.8 L82.1 363.8 L82.0 363.2 L81.8 365.1 L81.7 367.3 L81.5 368.3 L81.4 369.3 L81.2 370.8 L81.1 371.8 L81.0 372.5 L80.9 373.9 L80.7 376.1 L80.6 377.2 L80.5 378.1 L80.4 380.0 L80.3 380.8 L80.2 381.7 L80.1 383.2 L80.0 384.3 L79.9 385.9 L79.8 387.7 L79.7 389.3 L79.6 390.2 L79.6 390.6 L79.5 392.5 L79.4 393.9 L79.4 395.1 L79.3 397.4 L79.2 399.2 L79.2 399.7 L79.1 399.8 L79.0 401.7 L79.0 403.3Z" fill="#672880" fill-opacity="0.27"/><path d="M79.0 400.0 L79.0 399.0 L79.1 397.7 L79.2 396.4 L79.2 395.1 L79.3 393.8 L79.4 392.5 L79.4 391.2 L79.5 389.9 L79.6 388.6 L79.6 387.3 L79.7 386.0 L79.8 384.7 L79.9 383.4 L80.0 382.1 L80.1 380.8 L80.2 379.5 L80.3 378.2 L80.4 376.9 L80.5 375.6 L80.6 374.3 L80.7 373.0 L80.9 371.8 L81.0 370.5 L81.1 369.1 L81.2 367.9 L81.4 366.5 L81.5 365.3 L81.7 364.0 L81.8 362.7 L82.0 361.4 L82.1 360.1 L82.3 358.8 L82.5 357.6 L82.7 356.3 L82.9 355.0 L83.1 353.7 L83.3 352.4 L83.5 351.1 L83.7 349.7 L83.9 348.4 L84.1 347.4 L84.3 346.1 L84.5 344.7 L84.7 343.4 L85.0 342.2 L85.2 340.9 L85.4 339.6 L85.7 338.3 L86.0 337.0 L86.2 335.8 L86.6 334.5 L86.9 333.2 L87.2 332.0 L87.5 330.7 L87.7 329.5 L87.9 328.2 L88.1 326.9 L88.3 325.6 L88.5 324.2 L88.6 323.0 L88.8 321.7 L89.1 320.4 L89.4 319.0 L89.6 317.7 L90.0 316.6 L90.3 315.4 L90.7 314.2 L91.1 313.1 L91.5 311.9 L91.9 310.4 L92.3 309.2 L92.8 308.0 L93.3 306.9 L93.8 305.7 L94.3 304.5 L94.9 303.2 L95.5 302.2 L96.0 301.2 L96.6 299.9 L97.2 298.6 L98.0 297.6 L98.8 296.7 L99.7 295.4 L100.6 294.7 L101.6 293.9 L102.6 293.3 L103.6 291.9 L104.7 291.0 L105.7 290.8 L106.8 289.7 L107.9 289.1 L109.0 289.2 L110.1 288.3 L111.3 287.4 L112.5 287.4 L113.8 286.9 L115.0 286.2 L116.3 285.9 L117.6 286.6 L118.9 286.7 L120.2 286.5 L121.5 286.9 L122.7 287.3 L124.0 287.8 L125.3 288.2 L126.6 288.0 L127.9 287.5 L129.2 287.9 L130.4 288.1 L131.7 287.9 L133.0 288.3 L134.3 288.5 L135.6 288.7 L136.9 289.4 L138.1 289.9 L139.4 290.1 L140.7 290.1 L141.9 290.6 L143.2 291.2 L144.5 290.7 L145.8 290.7 L147.0 291.6 L148.3 291.8 L149.6 292.0 L150.9 292.2 L152.2 292.7 L153.5 292.8 L154.8 292.2 L156.1 292.5 L157.4 292.6 L158.6 292.7 L159.9 292.8 L161.2 292.8 L162.5 293.3 L163.8 293.6 L165.1 293.6 L166.4 293.3 L167.7 293.6 L169.0 293.6 L170.3 293.3 L171.6 293.9 L172.9 293.6 L174.2 294.1 L175.5 294.4 L176.8 294.0 L178.1 294.2 L179.4 294.6 L180.7 294.8 L182.0 294.5 L183.3 294.5 L184.6 294.8 L185.9 295.0 L187.2 295.4 L188.5 295.3 L189.8 295.3 L191.1 295.6 L192.3 295.7 L193.6 295.7 L194.9 296.1 L196.2 296.3 L197.5 296.2 L198.8 296.2 L200.1 296.1 L201.4 296.4 L202.7 296.8 L204.0 296.5 L205.3 296.3 L206.6 296.7 L207.9 297.0 L209.2 297.0 L210.5 296.7 L211.8 296.9 L213.1 297.1 L214.4 297.0 L215.7 296.8 L217.0 296.8 L218.3 296.9 L219.6 296.8 L220.9 296.6 L222.2 296.5 L223.5 296.4 L224.8 296.9 L226.1 297.2 L227.4 297.3 L228.7 297.0 L230.0 296.5 L231.3 297.1 L232.6 296.7 L233.8 295.8 L235.1 295.8 L236.3 295.8 L237.6 295.6 L238.9 295.2 L240.2 295.2 L241.5 295.9 L242.8 296.2 L244.1 295.9 L245.4 295.5 L246.7 295.5 L248.0 296.1 L249.3 296.6 L250.6 295.9 L251.9 295.5 L252.0 295.9" fill="none" stroke="#672880" stroke-width="5.0" stroke-linejoin="round" stroke-linecap="butt"/><line x1="66.0" x2="250.0" y1="297.48" y2="297.48" stroke="#000" stroke-width="1.3" stroke-dasharray="4.6 3.7"/></g><rect x="66.0" y="228.3" width="184.0" height="169.6" fill="none" stroke="#000" stroke-width="1.8"/><rect x="262.0" y="228.3" width="184.0" height="169.6" fill="#fff"/><clipPath id="cp11"><rect x="262.0" y="228.3" width="184.0" height="169.6"/></clipPath><g clip-path="url(#cp11)"><path d="M271.7 379.0 L271.7 378.3 L271.7 376.3 L271.8 373.9 L271.8 372.9 L271.8 372.0 L271.8 371.0 L271.8 370.4 L271.9 369.2 L271.9 367.6 L271.9 365.7 L271.9 364.5 L271.9 363.3 L272.0 361.5 L272.0 360.3 L272.0 359.5 L272.0 359.4 L272.0 357.9 L272.1 356.0 L272.1 354.4 L272.1 352.8 L272.1 352.1 L272.2 350.6 L272.2 348.6 L272.2 347.8 L272.2 346.7 L272.2 345.5 L272.3 343.8 L272.3 341.6 L272.3 340.7 L272.3 339.7 L272.4 338.4 L272.4 337.6 L272.4 336.5 L272.5 335.5 L272.5 334.3 L272.5 331.8 L272.6 329.6 L272.6 328.9 L272.6 328.4 L272.7 327.1 L272.7 325.6 L272.7 325.2 L272.8 324.7 L272.8 322.1 L272.8 320.1 L272.9 319.9 L272.9 318.3 L272.9 317.2 L273.0 316.9 L273.0 314.2 L273.0 312.2 L273.0 312.4 L273.1 311.1 L273.1 309.2 L273.1 308.4 L273.2 307.1 L273.2 305.2 L273.2 304.3 L273.3 303.2 L273.3 301.0 L273.3 300.0 L273.4 298.7 L273.4 297.0 L273.5 295.7 L273.5 294.1 L273.6 293.4 L273.6 292.1 L273.7 290.4 L273.8 290.0 L273.9 289.2 L273.9 287.7 L274.0 285.6 L274.0 284.4 L274.1 283.3 L274.1 282.3 L274.2 280.7 L274.2 279.0 L274.3 278.5 L274.4 277.1 L274.5 275.1 L274.5 273.3 L274.6 272.8 L274.8 271.5 L274.9 269.7 L275.1 268.8 L275.2 267.3 L275.5 265.2 L275.7 263.5 L276.1 261.7 L276.8 259.6 L278.0 261.2 L279.0 262.6 L279.8 263.6 L280.5 265.3 L281.2 266.5 L281.8 267.1 L282.7 268.3 L283.6 270.2 L284.5 271.3 L285.5 271.4 L286.6 271.2 L287.6 272.9 L288.6 274.3 L289.7 274.1 L290.7 274.3 L291.8 276.6 L292.9 277.9 L294.0 277.0 L295.1 278.3 L296.3 277.6 L297.5 277.8 L298.6 279.4 L299.9 279.3 L301.2 279.5 L302.5 278.8 L303.7 279.5 L305.0 280.8 L306.2 280.9 L307.4 281.2 L308.6 281.7 L309.8 282.0 L311.0 282.8 L312.2 283.9 L313.4 285.1 L314.6 284.8 L315.8 284.3 L317.0 285.9 L318.2 285.8 L319.5 285.1 L320.7 287.0 L321.9 287.8 L323.1 287.7 L324.4 288.6 L325.7 289.3 L327.0 288.7 L328.3 288.8 L329.6 288.8 L330.9 288.3 L332.2 288.2 L333.5 288.7 L334.8 289.5 L336.1 289.0 L337.4 288.6 L338.6 288.7 L339.9 289.4 L341.2 290.2 L342.5 290.7 L343.8 290.9 L345.1 290.6 L346.4 290.3 L347.7 289.9 L349.0 290.9 L350.3 291.9 L351.5 291.5 L352.8 291.4 L354.1 292.0 L355.4 291.4 L356.7 291.2 L358.0 292.2 L359.3 292.3 L360.6 291.5 L361.9 291.3 L363.2 292.3 L364.5 292.9 L365.7 292.4 L367.0 292.7 L368.3 294.0 L369.6 294.1 L370.9 293.3 L372.2 292.8 L373.5 293.3 L374.8 293.0 L376.1 293.3 L377.4 294.3 L378.7 293.8 L380.0 294.0 L381.3 294.6 L382.6 294.3 L383.9 294.4 L385.2 294.4 L386.5 293.7 L387.8 293.7 L389.1 293.8 L390.4 293.0 L391.7 292.6 L393.0 293.0 L394.3 292.4 L395.6 292.3 L396.9 292.4 L398.2 292.1 L399.5 292.8 L400.8 292.5 L402.1 292.3 L403.4 292.7 L404.7 291.5 L406.0 290.7 L407.3 290.9 L408.6 292.0 L409.9 292.9 L411.2 292.8 L412.5 292.6 L413.8 292.5 L415.1 292.2 L416.4 291.8 L417.7 292.0 L419.0 292.0 L420.3 291.7 L421.6 291.7 L422.9 292.3 L424.2 291.9 L425.5 291.6 L426.8 292.5 L428.1 292.6 L429.4 292.9 L430.7 293.1 L432.0 292.8 L433.3 292.2 L434.6 292.4 L435.9 292.8 L437.1 292.1 L438.4 291.9 L439.7 291.8 L441.0 292.0 L442.3 292.5 L443.6 292.7 L444.9 293.1 L446.2 293.9 L447.5 293.1 L448.0 291.9 L448.0 299.0 L447.5 299.6 L446.2 298.8 L444.9 297.5 L443.6 297.1 L442.3 297.6 L441.0 297.7 L439.7 296.6 L438.4 296.6 L437.1 297.6 L435.9 297.7 L434.6 297.0 L433.3 296.8 L432.0 298.5 L430.7 298.9 L429.4 297.5 L428.1 297.0 L426.8 297.8 L425.5 298.2 L424.2 296.8 L422.9 297.0 L421.6 298.4 L420.3 298.3 L419.0 297.8 L417.7 298.3 L416.4 298.1 L415.1 297.2 L413.8 296.7 L412.5 297.0 L411.2 297.6 L409.9 297.0 L408.6 296.5 L407.3 296.8 L406.0 297.6 L404.7 297.7 L403.4 297.2 L402.1 297.4 L400.8 298.4 L399.5 298.4 L398.2 297.3 L396.9 297.7 L395.6 298.1 L394.3 297.9 L393.0 297.7 L391.7 297.5 L390.4 298.4 L389.1 298.6 L387.8 299.6 L386.5 299.8 L385.2 299.4 L383.9 300.1 L382.6 300.4 L381.3 299.8 L380.0 299.6 L378.7 299.5 L377.4 298.9 L376.1 298.2 L374.8 298.4 L373.5 298.3 L372.2 299.0 L370.9 300.5 L369.6 299.4 L368.3 298.1 L367.0 299.1 L365.7 300.0 L364.5 298.6 L363.2 297.9 L361.9 297.8 L360.6 297.5 L359.3 298.2 L358.0 298.3 L356.7 297.8 L355.4 297.4 L354.1 296.2 L352.8 296.0 L351.5 296.1 L350.3 296.6 L349.0 296.8 L347.7 295.8 L346.4 295.7 L345.1 295.7 L343.8 297.0 L342.5 296.9 L341.2 295.1 L339.9 295.3 L338.6 295.4 L337.4 294.9 L336.1 295.0 L334.8 294.9 L333.5 295.2 L332.2 295.0 L330.9 293.6 L329.6 293.0 L328.3 294.1 L327.0 294.1 L325.7 292.6 L324.4 292.4 L323.1 292.5 L321.9 292.4 L320.7 292.6 L319.5 292.3 L318.2 292.0 L317.0 291.7 L315.8 290.7 L314.6 290.5 L313.4 289.4 L312.2 289.2 L311.0 288.9 L309.8 287.2 L308.6 287.3 L307.4 287.7 L306.2 286.4 L305.0 285.9 L303.7 285.8 L302.5 284.6 L301.2 284.7 L299.9 285.1 L298.6 284.6 L297.5 284.8 L296.3 284.9 L295.1 283.2 L294.0 281.2 L292.9 280.6 L291.8 280.4 L290.7 280.6 L289.7 280.1 L288.6 279.4 L287.6 278.6 L286.6 277.9 L285.5 277.2 L284.5 275.4 L283.6 274.7 L282.7 273.3 L281.8 272.2 L281.2 272.4 L280.5 271.1 L279.8 269.0 L279.0 267.9 L278.0 267.8 L276.8 268.0 L276.1 269.0 L275.7 269.3 L275.5 270.9 L275.2 273.2 L275.1 274.4 L274.9 275.6 L274.8 276.7 L274.6 277.8 L274.5 279.4 L274.5 279.8 L274.4 280.2 L274.3 282.3 L274.2 283.4 L274.2 284.4 L274.1 286.0 L274.1 287.6 L274.0 289.4 L274.0 290.2 L273.9 291.5 L273.9 293.3 L273.8 294.4 L273.7 296.0 L273.6 297.1 L273.6 298.2 L273.5 300.0 L273.5 302.0 L273.4 303.4 L273.4 303.9 L273.3 304.5 L273.3 305.8 L273.3 307.1 L273.2 308.4 L273.2 310.3 L273.2 312.0 L273.1 312.2 L273.1 313.0 L273.1 314.3 L273.0 316.4 L273.0 318.2 L273.0 319.1 L273.0 320.4 L272.9 322.2 L272.9 324.0 L272.9 324.8 L272.8 326.1 L272.8 327.5 L272.8 328.4 L272.7 329.6 L272.7 331.0 L272.7 332.2 L272.6 334.2 L272.6 335.3 L272.6 335.3 L272.5 336.4 L272.5 337.7 L272.5 338.5 L272.4 340.9 L272.4 343.2 L272.4 344.4 L272.3 345.7 L272.3 346.4 L272.3 347.2 L272.3 348.8 L272.2 350.7 L272.2 352.4 L272.2 353.8 L272.2 355.2 L272.2 357.0 L272.1 358.3 L272.1 358.0 L272.1 359.4 L272.1 361.4 L272.0 362.9 L272.0 364.6 L272.0 365.5 L272.0 366.9 L272.0 368.5 L271.9 369.4 L271.9 370.4 L271.9 372.1 L271.9 373.8 L271.9 375.4 L271.8 376.2 L271.8 377.8 L271.8 379.5 L271.8 380.6 L271.8 381.7 L271.7 383.7 L271.7 384.9 L271.7 385.6Z" fill="#10CA9A" fill-opacity="0.27"/><path d="M271.7 381.6 L271.7 380.3 L271.7 379.0 L271.8 377.7 L271.8 376.4 L271.8 375.1 L271.8 373.8 L271.8 372.5 L271.9 371.2 L271.9 369.9 L271.9 368.6 L271.9 367.3 L271.9 366.0 L272.0 364.7 L272.0 363.4 L272.0 362.1 L272.0 360.8 L272.0 359.5 L272.1 358.2 L272.1 356.9 L272.1 355.6 L272.1 354.3 L272.2 353.0 L272.2 351.7 L272.2 350.4 L272.2 349.1 L272.2 347.8 L272.3 346.5 L272.3 345.2 L272.3 343.9 L272.3 342.6 L272.4 341.3 L272.4 340.0 L272.4 338.7 L272.5 337.4 L272.5 336.1 L272.5 334.8 L272.6 333.5 L272.6 332.2 L272.6 330.9 L272.7 329.6 L272.7 328.3 L272.7 327.0 L272.8 325.7 L272.8 324.4 L272.8 323.1 L272.9 321.8 L272.9 320.5 L272.9 319.2 L273.0 317.9 L273.0 316.6 L273.0 315.3 L273.0 314.0 L273.1 312.7 L273.1 311.4 L273.1 310.1 L273.2 308.8 L273.2 307.5 L273.2 306.2 L273.3 304.9 L273.3 303.6 L273.3 302.3 L273.4 301.0 L273.4 299.7 L273.5 298.4 L273.5 297.1 L273.6 295.8 L273.6 294.5 L273.7 293.2 L273.8 291.9 L273.9 290.6 L273.9 289.3 L274.0 288.0 L274.0 286.7 L274.1 285.4 L274.1 284.2 L274.2 282.9 L274.2 281.6 L274.3 280.3 L274.4 279.0 L274.5 277.6 L274.5 276.4 L274.6 275.1 L274.8 273.8 L274.9 272.5 L275.1 271.2 L275.2 269.8 L275.5 268.5 L275.7 267.5 L276.1 266.3 L276.8 265.0 L278.0 265.2 L279.0 266.1 L279.8 267.0 L280.5 268.2 L281.2 269.5 L281.8 270.6 L282.7 272.0 L283.6 272.5 L284.5 272.9 L285.5 273.8 L286.6 274.8 L287.6 276.1 L288.6 276.8 L289.7 277.6 L290.7 278.3 L291.8 278.6 L292.9 279.2 L294.0 280.1 L295.1 280.9 L296.3 281.4 L297.5 282.2 L298.6 282.4 L299.9 282.3 L301.2 282.8 L302.5 283.1 L303.7 283.6 L305.0 283.9 L306.2 284.1 L307.4 284.6 L308.6 284.8 L309.8 285.8 L311.0 286.7 L312.2 286.6 L313.4 287.0 L314.6 287.8 L315.8 288.4 L317.0 288.9 L318.2 289.2 L319.5 289.0 L320.7 289.6 L321.9 290.5 L323.1 290.8 L324.4 291.1 L325.7 291.3 L327.0 291.8 L328.3 291.7 L329.6 291.4 L330.9 291.7 L332.2 292.1 L333.5 292.4 L334.8 291.9 L336.1 291.6 L337.4 292.0 L338.6 292.6 L339.9 292.7 L341.2 292.7 L342.5 292.5 L343.8 292.5 L345.1 292.9 L346.4 293.4 L347.7 293.7 L349.0 293.7 L350.3 293.8 L351.5 294.1 L352.8 294.4 L354.1 294.5 L355.4 294.5 L356.7 294.6 L358.0 295.3 L359.3 295.5 L360.6 295.3 L361.9 295.5 L363.2 295.4 L364.5 295.2 L365.7 295.9 L367.0 296.2 L368.3 295.8 L369.6 295.9 L370.9 296.1 L372.2 296.1 L373.5 296.3 L374.8 296.2 L376.1 296.1 L377.4 296.4 L378.7 296.2 L380.0 296.1 L381.3 296.5 L382.6 296.2 L383.9 296.5 L385.2 296.8 L386.5 296.8 L387.8 296.5 L389.1 296.0 L390.4 296.0 L391.7 296.2 L393.0 296.4 L394.3 296.0 L395.6 295.3 L396.9 295.2 L398.2 295.6 L399.5 295.6 L400.8 295.1 L402.1 295.1 L403.4 295.4 L404.7 295.3 L406.0 295.2 L407.3 295.4 L408.6 295.1 L409.9 294.6 L411.2 295.0 L412.5 295.4 L413.8 295.1 L415.1 294.8 L416.4 294.7 L417.7 295.2 L419.0 295.6 L420.3 295.2 L421.6 295.5 L422.9 295.7 L424.2 295.2 L425.5 295.3 L426.8 295.3 L428.1 295.0 L429.4 295.3 L430.7 295.4 L432.0 295.4 L433.3 295.5 L434.6 295.1 L435.9 295.2 L437.1 295.8 L438.4 295.6 L439.7 295.3 L441.0 295.3 L442.3 295.5 L443.6 295.8 L444.9 295.8 L446.2 295.5 L447.5 295.2 L448.0 295.6" fill="none" stroke="#10CA9A" stroke-width="5.0" stroke-linejoin="round" stroke-linecap="butt"/><line x1="262.0" x2="446.0" y1="297.48" y2="297.48" stroke="#000" stroke-width="1.3" stroke-dasharray="4.6 3.7"/></g><rect x="262.0" y="228.3" width="184.0" height="169.6" fill="none" stroke="#000" stroke-width="1.8"/><rect x="458.0" y="228.3" width="184.0" height="169.6" fill="#fff"/><clipPath id="cp12"><rect x="458.0" y="228.3" width="184.0" height="169.6"/></clipPath><g clip-path="url(#cp12)"><path d="M470.8 396.8 L470.8 396.4 L470.9 395.4 L470.9 393.8 L471.0 392.6 L471.0 391.2 L471.0 389.7 L471.1 388.6 L471.1 387.3 L471.1 386.8 L471.2 386.1 L471.2 384.2 L471.2 382.7 L471.3 381.5 L471.3 379.3 L471.3 378.1 L471.4 378.1 L471.4 376.4 L471.5 374.8 L471.5 373.2 L471.5 371.5 L471.6 371.1 L471.7 370.2 L471.7 368.4 L471.8 366.7 L471.8 366.3 L471.9 365.6 L472.0 363.8 L472.1 362.0 L472.2 360.5 L472.2 359.7 L472.3 359.1 L472.4 356.9 L472.5 355.1 L472.6 354.8 L472.7 353.4 L472.8 352.3 L473.0 351.1 L473.1 348.8 L473.2 347.5 L473.3 346.4 L473.5 344.8 L473.6 343.2 L473.8 342.4 L474.0 341.4 L474.1 339.9 L474.3 338.1 L474.4 336.3 L474.6 335.9 L474.8 334.3 L474.9 332.8 L475.1 332.6 L475.3 331.3 L475.5 329.4 L475.7 328.3 L476.0 327.3 L476.2 325.1 L476.5 323.9 L476.9 323.2 L477.3 321.8 L477.7 320.4 L478.2 319.1 L478.9 317.7 L479.5 316.6 L480.1 315.8 L480.7 314.5 L481.3 313.5 L481.9 313.0 L482.5 312.9 L482.9 311.5 L483.3 309.0 L483.6 307.9 L484.0 307.4 L484.4 306.0 L485.4 304.9 L486.6 304.6 L487.8 304.5 L488.9 306.2 L490.1 305.9 L490.8 304.3 L491.4 304.1 L492.0 302.8 L492.8 301.3 L493.9 300.5 L495.0 298.7 L496.3 297.5 L497.5 298.9 L498.8 298.8 L500.0 298.1 L501.1 298.2 L502.4 297.3 L503.6 297.4 L504.9 296.9 L506.2 296.2 L507.5 295.8 L508.8 295.8 L510.1 296.3 L511.4 296.6 L512.6 297.3 L513.8 297.5 L515.1 297.0 L516.4 296.2 L517.6 295.9 L518.8 295.7 L520.1 295.9 L521.4 295.6 L522.7 294.9 L524.0 295.1 L525.3 294.5 L526.6 293.7 L527.9 294.5 L529.2 295.0 L530.5 294.7 L531.8 294.5 L533.1 294.6 L534.4 295.7 L535.7 295.9 L537.0 294.6 L538.3 293.8 L539.6 293.7 L540.9 294.0 L542.2 294.3 L543.5 293.6 L544.8 294.1 L546.1 294.5 L547.4 293.5 L548.7 293.6 L550.0 293.5 L551.3 293.5 L552.6 294.0 L553.9 293.7 L555.1 293.7 L556.4 294.0 L557.7 294.8 L559.0 295.0 L560.3 293.4 L561.6 292.9 L562.9 293.8 L564.2 294.6 L565.5 294.0 L566.8 293.6 L568.1 294.2 L569.4 293.9 L570.7 293.6 L572.0 293.8 L573.3 293.6 L574.6 293.1 L575.9 293.8 L577.2 293.6 L578.5 292.4 L579.8 292.6 L581.1 293.6 L582.4 293.7 L583.7 293.0 L585.0 293.6 L586.3 294.3 L587.6 294.0 L588.9 293.5 L590.2 293.4 L591.5 293.7 L592.8 294.1 L594.1 294.4 L595.4 293.9 L596.7 292.8 L598.0 293.2 L599.3 293.1 L600.6 291.9 L601.9 292.2 L603.2 292.5 L604.5 292.5 L605.8 293.2 L607.1 293.5 L608.4 293.4 L609.7 293.2 L611.0 293.3 L612.3 293.6 L613.6 293.4 L614.9 293.1 L616.2 292.6 L617.5 291.9 L618.8 291.3 L620.1 292.2 L621.4 293.1 L622.7 292.3 L624.0 292.1 L625.3 292.5 L626.6 293.3 L627.9 293.0 L629.2 291.2 L630.5 290.5 L631.8 291.3 L633.1 291.8 L634.4 291.6 L635.6 291.2 L636.9 291.6 L638.2 291.2 L639.5 291.0 L640.8 291.4 L642.1 290.4 L643.4 289.9 L644.0 290.7 L644.0 298.8 L643.4 298.9 L642.1 298.7 L640.8 299.0 L639.5 299.3 L638.2 299.3 L636.9 299.1 L635.6 299.7 L634.4 300.7 L633.1 300.7 L631.8 300.8 L630.5 300.9 L629.2 300.9 L627.9 300.4 L626.6 300.3 L625.3 300.9 L624.0 301.0 L622.7 300.6 L621.4 301.1 L620.1 301.6 L618.8 300.9 L617.5 301.0 L616.2 300.9 L614.9 301.1 L613.6 301.0 L612.3 300.8 L611.0 301.0 L609.7 301.3 L608.4 301.8 L607.1 302.4 L605.8 302.5 L604.5 301.6 L603.2 302.1 L601.9 303.0 L600.6 303.0 L599.3 302.0 L598.0 301.8 L596.7 302.2 L595.4 302.4 L594.1 302.1 L592.8 301.7 L591.5 302.1 L590.2 303.2 L588.9 303.5 L587.6 303.4 L586.3 303.1 L585.0 302.5 L583.7 302.8 L582.4 303.1 L581.1 303.3 L579.8 302.6 L578.5 303.1 L577.2 304.1 L575.9 303.5 L574.6 304.1 L573.3 304.9 L572.0 304.5 L570.7 303.6 L569.4 304.0 L568.1 303.5 L566.8 303.7 L565.5 305.0 L564.2 304.7 L562.9 304.3 L561.6 304.3 L560.3 304.9 L559.0 304.9 L557.7 303.9 L556.4 304.1 L555.1 304.7 L553.9 304.7 L552.6 304.8 L551.3 304.9 L550.0 305.4 L548.7 305.6 L547.4 305.5 L546.1 305.2 L544.8 305.0 L543.5 305.5 L542.2 305.5 L540.9 304.8 L539.6 304.2 L538.3 305.3 L537.0 306.0 L535.7 305.4 L534.4 306.2 L533.1 306.6 L531.8 305.7 L530.5 305.1 L529.2 304.5 L527.9 304.8 L526.6 304.9 L525.3 305.8 L524.0 306.5 L522.7 306.2 L521.4 305.7 L520.1 305.5 L518.8 306.5 L517.6 306.2 L516.4 306.3 L515.1 307.9 L513.8 307.2 L512.6 306.7 L511.4 307.2 L510.1 307.7 L508.8 306.8 L507.5 305.0 L506.2 305.0 L504.9 305.2 L503.6 305.9 L502.4 306.3 L501.1 306.6 L500.0 306.5 L498.8 306.7 L497.5 306.9 L496.3 305.4 L495.0 306.6 L493.9 307.5 L492.8 307.6 L492.0 308.6 L491.4 308.8 L490.8 310.5 L490.1 311.9 L488.9 311.3 L487.8 311.2 L486.6 311.2 L485.4 310.7 L484.4 311.9 L484.0 312.1 L483.6 312.7 L483.3 314.7 L482.9 315.8 L482.5 316.2 L481.9 317.2 L481.3 319.1 L480.7 319.9 L480.1 320.9 L479.5 322.6 L478.9 323.8 L478.2 324.8 L477.7 325.7 L477.3 327.6 L476.9 329.6 L476.5 330.6 L476.2 331.2 L476.0 332.9 L475.7 334.3 L475.5 334.1 L475.3 335.1 L475.1 336.5 L474.9 338.3 L474.8 339.8 L474.6 341.4 L474.4 343.4 L474.3 345.0 L474.1 347.1 L474.0 347.9 L473.8 348.2 L473.6 349.1 L473.5 350.4 L473.3 351.5 L473.2 352.6 L473.1 353.7 L473.0 355.0 L472.8 356.7 L472.7 358.4 L472.6 359.3 L472.5 360.7 L472.4 362.5 L472.3 363.4 L472.2 363.8 L472.2 364.6 L472.1 366.5 L472.0 368.5 L471.9 369.8 L471.8 370.8 L471.8 372.0 L471.7 373.7 L471.7 375.4 L471.6 376.0 L471.5 377.0 L471.5 378.6 L471.5 380.4 L471.4 381.8 L471.4 383.1 L471.3 384.0 L471.3 385.3 L471.3 386.9 L471.2 388.2 L471.2 389.4 L471.2 390.2 L471.1 391.5 L471.1 392.9 L471.1 394.5 L471.0 395.7 L471.0 396.2 L471.0 396.8 L470.9 399.0 L470.9 401.6 L470.8 402.0 L470.8 402.0Z" fill="#344256" fill-opacity="0.27"/><path d="M470.8 400.0 L470.8 399.7 L470.9 398.4 L470.9 397.1 L471.0 395.8 L471.0 394.5 L471.0 393.2 L471.1 391.9 L471.1 390.6 L471.1 389.3 L471.2 387.9 L471.2 386.7 L471.2 385.4 L471.3 384.1 L471.3 382.8 L471.3 381.5 L471.4 380.2 L471.4 378.9 L471.5 377.6 L471.5 376.3 L471.5 375.0 L471.6 373.7 L471.7 372.4 L471.7 371.1 L471.8 369.8 L471.8 368.5 L471.9 367.2 L472.0 365.9 L472.1 364.6 L472.2 363.3 L472.2 362.0 L472.3 360.8 L472.4 359.4 L472.5 358.1 L472.6 356.8 L472.7 355.5 L472.8 354.2 L473.0 352.9 L473.1 351.6 L473.2 350.3 L473.3 349.1 L473.5 347.8 L473.6 346.5 L473.8 345.2 L474.0 343.9 L474.1 342.6 L474.3 341.3 L474.4 340.0 L474.6 338.7 L474.8 337.4 L474.9 336.1 L475.1 334.8 L475.3 333.5 L475.5 332.3 L475.7 330.9 L476.0 329.7 L476.2 328.5 L476.5 327.1 L476.9 325.8 L477.3 324.8 L477.7 323.6 L478.2 322.2 L478.9 321.1 L479.5 320.1 L480.1 319.1 L480.7 317.9 L481.3 316.7 L481.9 315.5 L482.5 314.2 L482.9 313.0 L483.3 311.7 L483.6 310.4 L484.0 309.1 L484.4 308.1 L485.4 307.7 L486.6 307.8 L487.8 308.2 L488.9 308.8 L490.1 308.5 L490.8 307.4 L491.4 306.4 L492.0 305.4 L492.8 304.6 L493.9 303.6 L495.0 302.9 L496.3 302.9 L497.5 303.4 L498.8 303.3 L500.0 302.4 L501.1 301.9 L502.4 301.5 L503.6 301.5 L504.9 301.6 L506.2 301.4 L507.5 301.2 L508.8 301.2 L510.1 301.0 L511.4 301.2 L512.6 302.0 L513.8 302.1 L515.1 301.5 L516.4 301.6 L517.6 301.2 L518.8 300.3 L520.1 300.3 L521.4 300.3 L522.7 300.4 L524.0 300.0 L525.3 299.5 L526.6 299.6 L527.9 299.7 L529.2 300.0 L530.5 299.7 L531.8 299.8 L533.1 300.2 L534.4 299.6 L535.7 300.0 L537.0 300.6 L538.3 299.9 L539.6 299.7 L540.9 299.3 L542.2 299.5 L543.5 299.8 L544.8 299.3 L546.1 299.3 L547.4 299.3 L548.7 299.1 L550.0 299.5 L551.3 299.9 L552.6 299.9 L553.9 299.5 L555.1 299.6 L556.4 299.5 L557.7 299.1 L559.0 299.3 L560.3 299.2 L561.6 298.8 L562.9 299.1 L564.2 299.2 L565.5 299.0 L566.8 299.1 L568.1 298.8 L569.4 298.9 L570.7 299.0 L572.0 298.9 L573.3 298.8 L574.6 298.6 L575.9 298.7 L577.2 298.4 L578.5 298.2 L579.8 298.3 L581.1 298.1 L582.4 298.0 L583.7 298.1 L585.0 297.9 L586.3 297.9 L587.6 298.2 L588.9 298.0 L590.2 297.8 L591.5 297.6 L592.8 297.3 L594.1 297.5 L595.4 297.5 L596.7 297.5 L598.0 297.7 L599.3 298.3 L600.6 298.2 L601.9 297.6 L603.2 297.3 L604.5 297.4 L605.8 296.9 L607.1 296.3 L608.4 296.7 L609.7 297.2 L611.0 297.8 L612.3 297.7 L613.6 297.2 L614.9 296.2 L616.2 296.5 L617.5 297.1 L618.8 296.5 L620.1 296.6 L621.4 297.0 L622.7 296.7 L624.0 296.1 L625.3 296.2 L626.6 296.2 L627.9 296.6 L629.2 296.5 L630.5 295.8 L631.8 295.8 L633.1 295.6 L634.4 295.4 L635.6 295.7 L636.9 295.7 L638.2 295.5 L639.5 295.4 L640.8 294.8 L642.1 294.1 L643.4 294.5 L644.0 294.6" fill="none" stroke="#344256" stroke-width="5.0" stroke-linejoin="round" stroke-linecap="butt"/><line x1="458.0" x2="642.0" y1="297.48" y2="297.48" stroke="#000" stroke-width="1.3" stroke-dasharray="4.6 3.7"/></g><rect x="458.0" y="228.3" width="184.0" height="169.6" fill="none" stroke="#000" stroke-width="1.8"/><rect x="66.0" y="410.0" width="184.0" height="169.6" fill="#fff"/><clipPath id="cp20"><rect x="66.0" y="410.0" width="184.0" height="169.6"/></clipPath><g clip-path="url(#cp20)"><path d="M78.6 579.3 L78.7 578.2 L78.7 576.9 L78.8 575.4 L78.8 574.3 L78.9 572.8 L78.9 571.5 L79.0 570.6 L79.0 568.9 L79.1 568.0 L79.2 566.9 L79.2 565.2 L79.3 564.9 L79.3 563.2 L79.4 560.9 L79.5 560.3 L79.5 559.4 L79.6 557.2 L79.7 555.6 L79.7 555.2 L79.8 553.7 L79.9 551.8 L79.9 551.3 L80.0 550.2 L80.1 548.4 L80.2 547.2 L80.2 546.1 L80.3 544.5 L80.4 542.3 L80.5 541.3 L80.6 540.7 L80.7 539.4 L80.8 538.6 L80.9 537.0 L81.0 535.1 L81.1 533.6 L81.2 532.4 L81.3 531.1 L81.5 529.7 L81.6 528.4 L81.7 527.1 L81.8 526.4 L82.0 525.2 L82.1 524.1 L82.2 523.0 L82.4 522.1 L82.5 521.0 L82.7 518.4 L82.9 517.4 L83.1 516.4 L83.2 514.3 L83.4 512.3 L83.6 512.0 L83.8 511.0 L84.1 508.6 L84.3 507.8 L84.5 507.4 L84.7 506.0 L85.0 504.6 L85.2 503.3 L85.5 501.5 L85.7 499.7 L86.0 498.7 L86.3 498.7 L86.6 497.6 L86.9 496.1 L87.3 494.6 L87.6 492.3 L87.9 489.9 L88.3 488.5 L88.6 487.9 L89.0 486.7 L89.3 485.6 L89.7 484.3 L90.1 482.1 L90.4 480.8 L90.8 479.6 L91.3 477.8 L91.7 477.5 L92.1 476.7 L92.6 475.2 L93.1 474.3 L93.7 472.5 L94.2 471.3 L94.9 470.1 L95.5 469.0 L96.2 468.3 L96.9 467.7 L97.7 466.9 L98.5 464.7 L99.4 463.2 L100.3 463.1 L101.3 462.9 L102.3 461.3 L103.4 459.8 L104.6 459.0 L105.8 459.3 L107.1 459.5 L108.4 458.8 L109.7 457.8 L111.0 457.2 L112.3 458.2 L113.6 459.0 L114.8 459.0 L116.1 459.1 L117.4 458.6 L118.7 458.3 L120.0 458.2 L121.3 458.0 L122.6 458.1 L123.9 459.2 L125.2 460.1 L126.5 459.3 L127.8 459.7 L129.1 460.2 L130.4 460.7 L131.6 460.3 L132.9 459.5 L134.2 460.6 L135.5 461.5 L136.8 461.9 L138.0 462.3 L139.3 462.4 L140.6 462.2 L141.9 461.7 L143.2 462.3 L144.5 463.5 L145.8 463.5 L147.1 463.6 L148.4 464.6 L149.6 464.5 L150.9 463.6 L152.2 463.9 L153.5 463.8 L154.8 463.8 L156.1 464.2 L157.4 464.3 L158.7 464.7 L160.0 465.1 L161.3 464.7 L162.6 463.8 L163.9 464.9 L165.2 465.9 L166.5 465.3 L167.8 465.4 L169.1 466.3 L170.4 465.6 L171.7 465.9 L173.0 465.9 L174.3 466.1 L175.6 467.2 L176.8 466.6 L178.1 467.3 L179.4 467.7 L180.6 467.9 L181.8 469.1 L183.0 469.4 L184.3 468.7 L185.5 468.8 L186.8 469.5 L188.0 470.2 L189.3 470.4 L190.6 470.3 L191.9 471.7 L193.2 471.7 L194.4 471.0 L195.7 471.2 L197.0 471.1 L198.3 471.8 L199.6 472.7 L200.9 472.6 L202.2 472.5 L203.5 472.0 L204.8 472.1 L206.1 473.0 L207.4 472.4 L208.7 472.3 L210.0 472.5 L211.3 471.7 L212.6 471.9 L213.8 471.4 L215.1 470.9 L216.4 470.9 L217.6 470.4 L218.9 470.4 L220.2 470.2 L221.5 469.7 L222.8 470.4 L224.1 470.6 L225.4 471.0 L226.7 471.7 L228.0 471.4 L229.3 471.7 L230.6 471.4 L231.9 469.6 L233.2 469.8 L234.5 471.2 L235.8 471.2 L237.1 471.5 L238.4 471.2 L239.6 470.7 L240.9 471.5 L242.2 471.5 L243.5 471.8 L244.8 473.1 L246.1 473.0 L247.4 471.9 L248.7 471.3 L250.0 471.7 L251.3 472.3 L252.0 472.0 L252.0 477.5 L251.3 477.5 L250.0 476.9 L248.7 476.1 L247.4 476.6 L246.1 477.7 L244.8 478.1 L243.5 477.8 L242.2 476.7 L240.9 476.2 L239.6 477.2 L238.4 476.7 L237.1 477.1 L235.8 477.9 L234.5 476.2 L233.2 476.8 L231.9 477.4 L230.6 476.0 L229.3 476.3 L228.0 477.1 L226.7 476.1 L225.4 475.8 L224.1 476.9 L222.8 477.6 L221.5 476.8 L220.2 476.4 L218.9 477.2 L217.6 476.7 L216.4 476.3 L215.1 477.2 L213.8 477.3 L212.6 477.2 L211.3 477.5 L210.0 478.7 L208.7 478.8 L207.4 478.5 L206.1 478.9 L204.8 479.3 L203.5 478.8 L202.2 478.0 L200.9 477.9 L199.6 478.1 L198.3 478.2 L197.0 478.4 L195.7 478.5 L194.4 477.2 L193.2 476.5 L191.9 477.1 L190.6 476.1 L189.3 475.5 L188.0 476.2 L186.8 476.9 L185.5 476.9 L184.3 476.1 L183.0 474.9 L181.8 474.1 L180.6 474.0 L179.4 474.2 L178.1 474.2 L176.8 473.6 L175.6 472.4 L174.3 472.3 L173.0 471.8 L171.7 472.1 L170.4 472.8 L169.1 471.8 L167.8 471.7 L166.5 472.7 L165.2 472.7 L163.9 472.0 L162.6 471.9 L161.3 471.5 L160.0 471.6 L158.7 472.1 L157.4 471.5 L156.1 471.6 L154.8 472.7 L153.5 472.5 L152.2 471.5 L150.9 471.0 L149.6 471.9 L148.4 471.8 L147.1 470.4 L145.8 469.4 L144.5 469.4 L143.2 470.7 L141.9 471.5 L140.6 471.0 L139.3 470.1 L138.0 470.0 L136.8 469.5 L135.5 469.3 L134.2 470.5 L132.9 469.9 L131.6 468.8 L130.4 469.7 L129.1 469.7 L127.8 469.0 L126.5 468.6 L125.2 467.4 L123.9 466.8 L122.6 467.5 L121.3 467.6 L120.0 466.6 L118.7 466.7 L117.4 467.4 L116.1 467.1 L114.8 467.2 L113.6 467.3 L112.3 466.4 L111.0 466.4 L109.7 467.0 L108.4 467.1 L107.1 467.6 L105.8 468.1 L104.6 467.3 L103.4 467.4 L102.3 469.2 L101.3 470.7 L100.3 472.4 L99.4 473.7 L98.5 473.7 L97.7 474.2 L96.9 475.4 L96.2 477.3 L95.5 478.3 L94.9 478.8 L94.2 480.1 L93.7 481.3 L93.1 481.4 L92.6 482.9 L92.1 484.3 L91.7 485.3 L91.3 487.3 L90.8 489.0 L90.4 489.5 L90.1 490.7 L89.7 492.8 L89.3 493.5 L89.0 493.9 L88.6 494.6 L88.3 495.6 L87.9 496.7 L87.6 498.0 L87.3 499.2 L86.9 501.1 L86.6 503.2 L86.3 504.3 L86.0 504.8 L85.7 505.5 L85.5 507.0 L85.2 508.5 L85.0 510.1 L84.7 511.0 L84.5 512.6 L84.3 515.1 L84.1 516.6 L83.8 517.0 L83.6 517.7 L83.4 519.3 L83.2 520.8 L83.1 521.6 L82.9 523.3 L82.7 524.4 L82.5 524.7 L82.4 525.9 L82.2 526.9 L82.1 528.7 L82.0 530.8 L81.8 532.5 L81.7 534.0 L81.6 535.2 L81.5 536.0 L81.3 536.8 L81.2 537.6 L81.1 539.0 L81.0 541.4 L80.9 542.5 L80.8 543.7 L80.7 545.9 L80.6 546.4 L80.5 546.8 L80.4 548.9 L80.3 551.0 L80.2 552.2 L80.2 552.7 L80.1 553.7 L80.0 554.8 L79.9 556.1 L79.9 557.4 L79.8 559.2 L79.7 561.1 L79.7 561.7 L79.6 562.9 L79.5 564.2 L79.5 566.0 L79.4 567.0 L79.3 567.8 L79.3 570.2 L79.2 571.3 L79.2 571.6 L79.1 572.5 L79.0 574.8 L79.0 576.1 L78.9 576.6 L78.9 578.0 L78.8 579.5 L78.8 581.2 L78.7 582.6 L78.7 583.9 L78.6 584.8Z" fill="#672880" fill-opacity="0.27"/><path d="M78.6 582.0 L78.7 581.0 L78.7 579.7 L78.8 578.4 L78.8 577.1 L78.9 575.8 L78.9 574.5 L79.0 573.2 L79.0 571.9 L79.1 570.6 L79.2 569.3 L79.2 568.0 L79.3 566.7 L79.3 565.4 L79.4 564.1 L79.5 562.8 L79.5 561.5 L79.6 560.2 L79.7 558.9 L79.7 557.6 L79.8 556.3 L79.9 555.0 L79.9 553.8 L80.0 552.4 L80.1 551.2 L80.2 549.8 L80.2 548.5 L80.3 547.2 L80.4 545.9 L80.5 544.7 L80.6 543.4 L80.7 542.1 L80.8 540.9 L80.9 539.5 L81.0 538.2 L81.1 536.9 L81.2 535.6 L81.3 534.3 L81.5 533.0 L81.6 531.7 L81.7 530.4 L81.8 529.1 L82.0 527.8 L82.1 526.6 L82.2 525.2 L82.4 524.0 L82.5 522.6 L82.7 521.3 L82.9 520.2 L83.1 518.9 L83.2 517.6 L83.4 516.3 L83.6 515.0 L83.8 513.7 L84.1 512.4 L84.3 511.1 L84.5 509.8 L84.7 508.6 L85.0 507.4 L85.2 506.0 L85.5 504.7 L85.7 503.4 L86.0 502.1 L86.3 500.9 L86.6 499.7 L86.9 498.4 L87.3 497.0 L87.6 495.8 L87.9 494.6 L88.3 493.3 L88.6 492.0 L89.0 490.8 L89.3 489.5 L89.7 488.3 L90.1 487.1 L90.4 485.9 L90.8 484.8 L91.3 483.5 L91.7 482.2 L92.1 481.0 L92.6 479.8 L93.1 478.6 L93.7 477.4 L94.2 476.2 L94.9 475.0 L95.5 473.8 L96.2 472.9 L96.9 471.6 L97.7 470.2 L98.5 469.5 L99.4 468.8 L100.3 467.9 L101.3 467.3 L102.3 466.6 L103.4 465.7 L104.6 464.9 L105.8 464.6 L107.1 464.1 L108.4 463.6 L109.7 463.3 L111.0 463.2 L112.3 463.6 L113.6 464.2 L114.8 464.4 L116.1 464.4 L117.4 464.2 L118.7 464.2 L120.0 464.2 L121.3 464.0 L122.6 464.2 L123.9 464.5 L125.2 464.2 L126.5 464.0 L127.8 464.7 L129.1 465.3 L130.4 465.5 L131.6 465.4 L132.9 465.7 L134.2 466.0 L135.5 466.3 L136.8 466.9 L138.0 467.1 L139.3 466.6 L140.6 467.0 L141.9 467.6 L143.2 467.9 L144.5 468.0 L145.8 467.9 L147.1 468.0 L148.4 468.0 L149.6 468.1 L150.9 468.4 L152.2 468.2 L153.5 468.3 L154.8 469.2 L156.1 469.7 L157.4 469.3 L158.7 469.1 L160.0 468.7 L161.3 468.6 L162.6 469.3 L163.9 469.6 L165.2 469.5 L166.5 469.6 L167.8 470.0 L169.1 470.0 L170.4 469.5 L171.7 469.6 L173.0 470.1 L174.3 470.2 L175.6 470.2 L176.8 470.8 L178.1 470.8 L179.4 470.5 L180.6 471.2 L181.8 472.1 L183.0 472.7 L184.3 472.7 L185.5 473.1 L186.8 473.1 L188.0 473.5 L189.3 474.3 L190.6 474.4 L191.9 474.4 L193.2 474.4 L194.4 475.0 L195.7 475.3 L197.0 475.4 L198.3 475.4 L199.6 475.8 L200.9 476.0 L202.2 475.8 L203.5 476.0 L204.8 476.0 L206.1 475.7 L207.4 475.2 L208.7 474.3 L210.0 474.4 L211.3 475.1 L212.6 474.9 L213.8 474.2 L215.1 473.8 L216.4 474.0 L217.6 473.9 L218.9 473.2 L220.2 473.0 L221.5 473.6 L222.8 473.8 L224.1 473.5 L225.4 473.3 L226.7 473.1 L228.0 473.3 L229.3 473.6 L230.6 473.7 L231.9 473.2 L233.2 473.7 L234.5 474.4 L235.8 474.5 L237.1 475.2 L238.4 474.9 L239.6 473.8 L240.9 473.8 L242.2 474.9 L243.5 475.4 L244.8 474.9 L246.1 475.0 L247.4 475.1 L248.7 474.7 L250.0 474.5 L251.3 474.9 L252.0 475.3" fill="none" stroke="#672880" stroke-width="5.0" stroke-linejoin="round" stroke-linecap="butt"/><line x1="66.0" x2="250.0" y1="479.18" y2="479.18" stroke="#000" stroke-width="1.3" stroke-dasharray="4.6 3.7"/></g><rect x="66.0" y="410.0" width="184.0" height="169.6" fill="none" stroke="#000" stroke-width="1.8"/><rect x="262.0" y="410.0" width="184.0" height="169.6" fill="#fff"/><clipPath id="cp21"><rect x="262.0" y="410.0" width="184.0" height="169.6"/></clipPath><g clip-path="url(#cp21)"><path d="M272.9 577.9 L272.9 577.9 L273.0 577.1 L273.0 575.3 L273.1 573.5 L273.1 572.7 L273.1 572.1 L273.2 571.6 L273.2 569.9 L273.2 567.4 L273.3 566.1 L273.3 564.7 L273.3 562.0 L273.4 560.8 L273.4 560.7 L273.5 559.2 L273.5 558.0 L273.5 556.9 L273.6 556.1 L273.6 554.3 L273.6 552.1 L273.7 551.2 L273.7 550.2 L273.8 549.0 L273.8 547.8 L273.8 546.0 L273.9 544.2 L273.9 543.1 L273.9 541.9 L274.0 541.0 L274.0 539.1 L274.1 537.1 L274.1 536.7 L274.1 536.4 L274.2 534.4 L274.2 532.3 L274.3 530.8 L274.3 530.0 L274.3 529.2 L274.4 527.6 L274.4 525.2 L274.5 524.0 L274.5 522.8 L274.6 521.2 L274.6 521.1 L274.7 519.5 L274.7 517.5 L274.7 516.1 L274.8 515.5 L274.8 514.4 L274.8 512.6 L274.9 511.2 L274.9 510.0 L274.9 508.3 L275.0 506.7 L275.0 506.0 L275.0 504.6 L275.1 503.2 L275.1 502.0 L275.1 500.4 L275.2 498.3 L275.2 497.1 L275.2 496.0 L275.3 494.8 L275.3 493.5 L275.3 492.3 L275.4 491.1 L275.4 489.1 L275.5 487.0 L275.6 486.1 L275.6 485.9 L275.7 484.5 L275.8 483.7 L275.8 482.2 L275.9 480.3 L276.0 479.6 L276.0 477.8 L276.1 476.0 L276.2 474.3 L276.3 473.3 L276.4 472.2 L276.5 470.7 L276.6 470.1 L276.8 468.1 L277.0 466.4 L277.3 465.8 L277.9 464.1 L278.8 463.0 L280.0 462.4 L281.2 462.4 L282.4 463.9 L283.6 463.7 L284.9 463.3 L286.1 463.6 L287.4 464.5 L288.7 466.1 L289.9 466.8 L291.2 466.7 L292.4 466.8 L293.7 467.6 L294.9 467.9 L296.2 468.3 L297.4 468.7 L298.7 468.3 L299.9 468.9 L301.2 469.5 L302.5 469.5 L303.7 469.9 L305.0 470.7 L306.3 470.9 L307.5 471.1 L308.8 471.0 L310.1 471.2 L311.4 471.6 L312.7 471.2 L314.0 471.7 L315.3 472.1 L316.6 471.8 L317.9 471.9 L319.2 472.8 L320.5 473.0 L321.8 472.7 L323.1 473.4 L324.3 473.4 L325.6 472.8 L326.9 473.4 L328.2 474.5 L329.5 474.2 L330.8 473.9 L332.1 474.4 L333.4 474.9 L334.7 474.6 L336.0 473.6 L337.3 473.8 L338.6 474.0 L339.9 474.6 L341.2 474.7 L342.5 473.4 L343.8 474.0 L345.1 475.4 L346.4 475.5 L347.7 475.8 L349.0 475.8 L350.3 475.6 L351.6 475.6 L352.9 475.4 L354.2 475.0 L355.5 474.6 L356.8 475.8 L358.1 476.5 L359.4 476.8 L360.7 476.8 L362.0 476.3 L363.3 476.7 L364.6 477.0 L365.9 477.1 L367.2 476.9 L368.5 475.7 L369.8 475.4 L371.1 476.3 L372.4 476.3 L373.7 475.8 L375.0 475.6 L376.3 475.6 L377.6 476.0 L378.9 476.2 L380.2 476.5 L381.5 476.9 L382.8 476.6 L384.0 476.4 L385.3 476.6 L386.6 476.1 L387.9 475.3 L389.2 475.8 L390.5 476.0 L391.8 475.9 L393.1 475.8 L394.4 476.1 L395.7 476.1 L397.0 475.5 L398.3 475.5 L399.6 475.8 L400.9 475.8 L402.2 475.5 L403.5 476.2 L404.8 476.8 L406.1 475.5 L407.4 475.1 L408.7 475.8 L410.0 475.6 L411.3 475.2 L412.6 475.1 L413.9 476.5 L415.2 476.5 L416.5 476.1 L417.8 475.6 L419.1 474.2 L420.4 474.8 L421.7 476.2 L423.0 476.1 L424.3 475.1 L425.6 474.7 L426.9 475.3 L428.2 475.9 L429.5 475.7 L430.8 475.0 L432.1 473.9 L433.4 474.3 L434.7 474.5 L436.0 474.1 L437.3 474.5 L438.6 474.0 L439.9 473.9 L441.2 474.6 L442.5 475.3 L443.8 474.5 L445.1 473.8 L446.4 474.1 L447.7 474.4 L448.0 474.5 L448.0 478.6 L447.7 478.8 L446.4 480.1 L445.1 480.0 L443.8 480.3 L442.5 480.8 L441.2 480.3 L439.9 480.2 L438.6 479.6 L437.3 480.3 L436.0 481.6 L434.7 481.2 L433.4 481.3 L432.1 481.7 L430.8 480.9 L429.5 480.6 L428.2 481.1 L426.9 480.5 L425.6 480.7 L424.3 481.5 L423.0 481.7 L421.7 481.6 L420.4 481.8 L419.1 481.9 L417.8 481.4 L416.5 481.4 L415.2 482.3 L413.9 483.0 L412.6 482.5 L411.3 482.4 L410.0 482.7 L408.7 482.6 L407.4 483.3 L406.1 484.0 L404.8 483.5 L403.5 483.2 L402.2 483.1 L400.9 483.5 L399.6 482.7 L398.3 482.6 L397.0 483.4 L395.7 482.9 L394.4 482.8 L393.1 483.3 L391.8 483.8 L390.5 484.2 L389.2 484.2 L387.9 484.6 L386.6 484.2 L385.3 483.2 L384.0 483.1 L382.8 483.2 L381.5 484.1 L380.2 485.0 L378.9 484.9 L377.6 484.4 L376.3 483.9 L375.0 485.0 L373.7 485.6 L372.4 485.2 L371.1 485.4 L369.8 485.0 L368.5 485.5 L367.2 485.7 L365.9 485.1 L364.6 486.3 L363.3 486.3 L362.0 485.5 L360.7 485.9 L359.4 486.4 L358.1 486.5 L356.8 485.9 L355.5 485.5 L354.2 485.8 L352.9 485.4 L351.6 485.2 L350.3 485.9 L349.0 484.9 L347.7 484.8 L346.4 485.6 L345.1 485.4 L343.8 486.0 L342.5 485.4 L341.2 484.4 L339.9 484.7 L338.6 484.7 L337.3 484.4 L336.0 484.3 L334.7 484.2 L333.4 484.5 L332.1 484.0 L330.8 484.1 L329.5 484.2 L328.2 483.9 L326.9 483.7 L325.6 484.2 L324.3 484.8 L323.1 484.2 L321.8 483.7 L320.5 483.8 L319.2 484.0 L317.9 483.6 L316.6 484.0 L315.3 484.5 L314.0 483.5 L312.7 483.5 L311.4 484.7 L310.1 485.2 L308.8 484.6 L307.5 484.1 L306.3 484.2 L305.0 483.9 L303.7 483.4 L302.5 483.8 L301.2 484.0 L299.9 483.6 L298.7 484.1 L297.4 483.9 L296.2 482.2 L294.9 482.2 L293.7 483.5 L292.4 483.0 L291.2 482.8 L289.9 482.3 L288.7 481.3 L287.4 480.3 L286.1 480.5 L284.9 480.7 L283.6 480.1 L282.4 478.9 L281.2 477.6 L280.0 477.4 L278.8 476.8 L277.9 476.3 L277.3 476.6 L277.0 477.5 L276.8 479.1 L276.6 479.8 L276.5 481.2 L276.4 482.7 L276.3 483.4 L276.2 485.0 L276.1 486.4 L276.0 487.4 L276.0 488.8 L275.9 490.5 L275.8 491.8 L275.8 492.6 L275.7 493.8 L275.6 495.3 L275.6 496.2 L275.5 497.2 L275.4 499.0 L275.4 500.7 L275.3 500.7 L275.3 502.1 L275.3 504.7 L275.2 504.8 L275.2 506.2 L275.2 508.7 L275.1 510.9 L275.1 511.9 L275.1 512.1 L275.0 513.6 L275.0 514.8 L275.0 515.8 L274.9 517.1 L274.9 518.8 L274.9 520.0 L274.8 520.8 L274.8 522.7 L274.8 523.6 L274.7 525.0 L274.7 526.0 L274.7 525.9 L274.6 528.0 L274.6 529.8 L274.5 530.9 L274.5 532.4 L274.4 534.5 L274.4 536.2 L274.3 537.2 L274.3 538.9 L274.3 539.8 L274.2 540.7 L274.2 542.0 L274.1 542.6 L274.1 544.1 L274.1 546.5 L274.0 547.2 L274.0 548.4 L273.9 550.4 L273.9 551.4 L273.9 552.6 L273.8 554.3 L273.8 555.1 L273.8 555.7 L273.7 557.2 L273.7 559.0 L273.6 559.5 L273.6 560.6 L273.6 562.3 L273.5 564.0 L273.5 565.7 L273.5 566.8 L273.4 567.7 L273.4 568.6 L273.3 570.2 L273.3 572.2 L273.3 573.4 L273.2 573.7 L273.2 574.6 L273.2 576.4 L273.1 577.9 L273.1 579.3 L273.1 580.9 L273.0 581.9 L273.0 583.4 L272.9 584.4 L272.9 584.3Z" fill="#10CA9A" fill-opacity="0.27"/><path d="M272.9 582.0 L272.9 581.9 L273.0 580.5 L273.0 579.2 L273.1 577.9 L273.1 576.6 L273.1 575.3 L273.2 574.0 L273.2 572.7 L273.2 571.4 L273.3 570.1 L273.3 568.8 L273.3 567.5 L273.4 566.2 L273.4 564.9 L273.5 563.6 L273.5 562.3 L273.5 561.0 L273.6 559.7 L273.6 558.4 L273.6 557.1 L273.7 555.8 L273.7 554.5 L273.8 553.2 L273.8 551.9 L273.8 550.7 L273.9 549.3 L273.9 548.0 L273.9 546.7 L274.0 545.4 L274.0 544.1 L274.1 542.8 L274.1 541.6 L274.1 540.3 L274.2 538.9 L274.2 537.6 L274.3 536.3 L274.3 535.0 L274.3 533.8 L274.4 532.5 L274.4 531.2 L274.5 529.9 L274.5 528.6 L274.6 527.2 L274.6 526.0 L274.7 524.7 L274.7 523.3 L274.7 522.1 L274.8 520.8 L274.8 519.5 L274.8 518.2 L274.9 516.9 L274.9 515.6 L274.9 514.3 L275.0 513.0 L275.0 511.7 L275.0 510.4 L275.1 509.1 L275.1 507.7 L275.1 506.4 L275.2 505.2 L275.2 503.9 L275.2 502.5 L275.3 501.3 L275.3 500.0 L275.3 498.7 L275.4 497.4 L275.4 496.1 L275.5 494.8 L275.6 493.5 L275.6 492.2 L275.7 490.9 L275.8 489.5 L275.8 488.3 L275.9 487.0 L276.0 485.7 L276.0 484.4 L276.1 483.1 L276.2 481.8 L276.3 480.5 L276.4 479.2 L276.5 477.9 L276.6 476.6 L276.8 475.3 L277.0 474.0 L277.3 472.9 L277.9 471.3 L278.8 470.2 L280.0 470.2 L281.2 470.3 L282.4 471.0 L283.6 471.9 L284.9 472.2 L286.1 471.7 L287.4 472.4 L288.7 473.7 L289.9 473.7 L291.2 473.5 L292.4 473.9 L293.7 474.1 L294.9 474.5 L296.2 475.1 L297.4 475.7 L298.7 475.9 L299.9 476.0 L301.2 476.6 L302.5 476.9 L303.7 477.1 L305.0 477.2 L306.3 478.0 L307.5 478.4 L308.8 478.0 L310.1 477.7 L311.4 477.8 L312.7 477.9 L314.0 477.9 L315.3 478.0 L316.6 478.2 L317.9 478.6 L319.2 479.1 L320.5 479.4 L321.8 479.5 L323.1 479.5 L324.3 479.8 L325.6 479.8 L326.9 479.5 L328.2 479.8 L329.5 479.9 L330.8 479.7 L332.1 479.7 L333.4 479.8 L334.7 480.1 L336.0 479.8 L337.3 479.7 L338.6 480.0 L339.9 479.9 L341.2 480.2 L342.5 480.4 L343.8 480.6 L345.1 480.6 L346.4 480.3 L347.7 480.2 L349.0 480.2 L350.3 480.7 L351.6 481.2 L352.9 481.0 L354.2 480.7 L355.5 480.4 L356.8 480.5 L358.1 481.0 L359.4 481.1 L360.7 481.6 L362.0 481.7 L363.3 481.6 L364.6 481.3 L365.9 480.8 L367.2 481.4 L368.5 481.5 L369.8 480.7 L371.1 481.0 L372.4 480.8 L373.7 480.1 L375.0 480.3 L376.3 480.2 L377.6 479.8 L378.9 479.8 L380.2 479.8 L381.5 479.6 L382.8 479.7 L384.0 479.8 L385.3 480.8 L386.6 480.6 L387.9 479.5 L389.2 478.9 L390.5 479.0 L391.8 479.3 L393.1 479.5 L394.4 479.9 L395.7 479.4 L397.0 479.4 L398.3 479.6 L399.6 479.8 L400.9 479.8 L402.2 479.6 L403.5 479.2 L404.8 478.4 L406.1 478.6 L407.4 478.9 L408.7 479.8 L410.0 480.2 L411.3 479.3 L412.6 478.6 L413.9 478.7 L415.2 478.7 L416.5 478.8 L417.8 478.7 L419.1 478.2 L420.4 478.4 L421.7 478.6 L423.0 478.6 L424.3 478.7 L425.6 478.5 L426.9 478.0 L428.2 477.7 L429.5 477.7 L430.8 477.7 L432.1 477.5 L433.4 477.5 L434.7 477.2 L436.0 477.4 L437.3 477.9 L438.6 477.6 L439.9 477.3 L441.2 477.2 L442.5 477.0 L443.8 476.9 L445.1 476.6 L446.4 476.7 L447.7 477.0 L448.0 476.8" fill="none" stroke="#10CA9A" stroke-width="5.0" stroke-linejoin="round" stroke-linecap="butt"/><line x1="262.0" x2="446.0" y1="479.18" y2="479.18" stroke="#000" stroke-width="1.3" stroke-dasharray="4.6 3.7"/></g><rect x="262.0" y="410.0" width="184.0" height="169.6" fill="none" stroke="#000" stroke-width="1.8"/><rect x="458.0" y="410.0" width="184.0" height="169.6" fill="#fff"/><clipPath id="cp22"><rect x="458.0" y="410.0" width="184.0" height="169.6"/></clipPath><g clip-path="url(#cp22)"><path d="M472.4 579.3 L472.4 578.5 L472.5 577.7 L472.6 576.5 L472.6 575.3 L472.7 574.4 L472.7 573.1 L472.8 571.4 L472.9 570.7 L472.9 568.7 L473.0 566.8 L473.0 566.5 L473.1 564.9 L473.2 562.9 L473.2 561.3 L473.3 559.8 L473.4 558.7 L473.4 558.2 L473.5 557.5 L473.5 555.8 L473.6 554.1 L473.7 552.5 L473.7 551.6 L473.8 550.1 L473.8 548.3 L473.9 548.0 L474.0 546.5 L474.0 544.7 L474.1 542.9 L474.2 541.2 L474.3 540.0 L474.4 538.5 L474.5 537.3 L474.7 536.4 L474.8 535.9 L475.0 534.6 L475.2 532.6 L475.5 532.1 L475.7 531.1 L475.9 529.5 L476.2 527.8 L476.4 526.4 L476.7 525.9 L476.9 524.6 L477.1 522.4 L477.3 521.7 L477.5 521.5 L477.7 519.3 L477.9 518.3 L478.1 517.1 L478.3 514.8 L478.6 513.6 L478.8 512.8 L479.0 511.8 L479.3 510.2 L479.6 508.7 L479.8 507.2 L480.2 506.5 L480.5 505.5 L480.9 503.1 L481.4 501.1 L482.0 500.6 L482.8 499.6 L483.6 498.4 L484.2 498.3 L484.7 497.4 L485.1 496.0 L485.5 494.8 L485.8 492.9 L486.2 492.0 L486.6 491.3 L487.0 490.0 L487.5 489.3 L488.1 488.1 L488.9 486.4 L489.9 484.8 L490.9 482.5 L491.9 481.9 L492.8 480.6 L493.6 478.1 L494.4 476.8 L495.2 475.8 L496.0 474.3 L496.8 472.5 L497.6 470.1 L498.4 467.8 L499.2 466.3 L500.0 465.7 L500.9 464.6 L501.8 461.9 L502.8 460.8 L503.8 460.0 L504.8 457.2 L505.9 455.0 L507.0 454.3 L508.0 452.4 L509.1 451.4 L510.2 451.5 L511.4 451.1 L512.6 450.7 L513.8 451.1 L515.1 451.1 L516.4 450.9 L517.7 451.9 L519.0 451.7 L520.3 451.5 L521.6 450.1 L522.8 447.6 L524.1 448.5 L525.4 449.2 L526.7 448.4 L527.9 448.7 L529.2 449.0 L530.4 449.5 L531.6 449.1 L532.9 449.6 L534.2 450.8 L535.4 450.6 L536.7 450.7 L538.0 451.6 L539.3 452.2 L540.6 452.1 L541.9 452.6 L543.2 452.7 L544.5 452.3 L545.7 453.1 L547.0 454.0 L548.3 454.4 L549.6 454.7 L550.9 454.5 L552.2 454.1 L553.5 453.6 L554.8 454.5 L556.1 455.9 L557.4 456.7 L558.7 456.9 L560.0 456.4 L561.3 456.5 L562.6 457.1 L563.9 457.4 L565.2 457.3 L566.5 457.7 L567.8 458.7 L569.1 459.4 L570.4 458.7 L571.7 457.6 L573.0 457.2 L574.3 457.6 L575.6 458.3 L576.9 459.3 L578.2 459.8 L579.5 459.6 L580.8 459.7 L582.0 459.4 L583.3 460.2 L584.6 461.3 L585.9 460.4 L587.2 459.7 L588.5 460.5 L589.8 461.8 L591.1 461.8 L592.4 461.1 L593.7 461.6 L595.0 461.5 L596.2 461.6 L597.5 461.9 L598.8 462.5 L600.1 462.6 L601.4 462.7 L602.7 463.5 L604.0 462.9 L605.3 462.1 L606.6 461.9 L607.9 462.4 L609.2 462.3 L610.5 462.2 L611.7 462.1 L613.0 462.2 L614.3 463.0 L615.6 463.3 L616.9 462.9 L618.2 463.0 L619.5 462.4 L620.8 461.4 L622.1 462.3 L623.4 462.8 L624.7 462.3 L625.9 462.3 L627.2 461.9 L628.5 461.8 L629.8 462.1 L631.1 461.5 L632.4 461.1 L633.7 461.4 L635.0 461.3 L636.3 461.3 L637.6 461.5 L638.9 461.4 L640.1 461.3 L641.4 460.8 L642.7 460.2 L644.0 459.9 L644.0 473.2 L642.7 472.7 L641.4 471.4 L640.1 472.1 L638.9 473.3 L637.6 473.1 L636.3 473.5 L635.0 473.5 L633.7 474.0 L632.4 473.7 L631.1 472.6 L629.8 473.2 L628.5 473.6 L627.2 473.7 L625.9 473.2 L624.7 472.8 L623.4 473.0 L622.1 472.6 L620.8 472.7 L619.5 474.3 L618.2 474.6 L616.9 474.0 L615.6 474.4 L614.3 474.6 L613.0 474.3 L611.7 473.5 L610.5 473.4 L609.2 474.0 L607.9 474.2 L606.6 474.6 L605.3 475.2 L604.0 475.9 L602.7 475.1 L601.4 474.4 L600.1 474.3 L598.8 474.7 L597.5 475.7 L596.2 474.9 L595.0 474.3 L593.7 475.6 L592.4 476.9 L591.1 477.2 L589.8 477.0 L588.5 476.9 L587.2 476.9 L585.9 477.7 L584.6 477.6 L583.3 477.0 L582.0 477.6 L580.8 478.4 L579.5 478.6 L578.2 478.2 L576.9 478.2 L575.6 478.6 L574.3 479.7 L573.0 480.1 L571.7 480.0 L570.4 479.2 L569.1 479.2 L567.8 480.3 L566.5 480.0 L565.2 479.1 L563.9 479.7 L562.6 481.8 L561.3 481.5 L560.0 480.5 L558.7 481.5 L557.4 481.6 L556.1 481.6 L554.8 482.7 L553.5 482.8 L552.2 482.5 L550.9 482.8 L549.6 482.8 L548.3 483.2 L547.0 483.5 L545.7 483.8 L544.5 484.2 L543.2 484.2 L541.9 484.1 L540.6 484.5 L539.3 485.2 L538.0 485.1 L536.7 485.3 L535.4 485.1 L534.2 484.8 L532.9 485.2 L531.6 484.1 L530.4 482.9 L529.2 482.5 L527.9 482.4 L526.7 482.4 L525.4 481.5 L524.1 481.6 L522.8 482.3 L521.6 482.0 L520.3 481.7 L519.0 481.8 L517.7 482.7 L516.4 482.9 L515.1 481.8 L513.8 481.2 L512.6 481.4 L511.4 482.0 L510.2 482.6 L509.1 482.9 L508.0 483.2 L507.0 483.2 L505.9 483.2 L504.8 484.2 L503.8 485.1 L502.8 485.4 L501.8 486.0 L500.9 486.3 L500.0 486.5 L499.2 487.2 L498.4 486.6 L497.6 487.0 L496.8 488.0 L496.0 488.0 L495.2 488.2 L494.4 488.0 L493.6 488.0 L492.8 489.3 L491.9 491.0 L490.9 491.3 L489.9 491.4 L488.9 492.7 L488.1 493.6 L487.5 494.9 L487.0 496.2 L486.6 496.9 L486.2 498.8 L485.8 499.7 L485.5 500.4 L485.1 502.8 L484.7 503.7 L484.2 503.7 L483.6 504.7 L482.8 505.5 L482.0 507.2 L481.4 508.9 L480.9 509.5 L480.5 510.4 L480.2 511.7 L479.8 513.5 L479.6 514.1 L479.3 514.9 L479.0 516.7 L478.8 518.1 L478.6 519.0 L478.3 520.4 L478.1 522.5 L477.9 524.1 L477.7 525.1 L477.5 525.5 L477.3 526.5 L477.1 528.0 L476.9 528.8 L476.7 530.8 L476.4 532.4 L476.2 533.2 L475.9 535.4 L475.7 536.1 L475.5 536.2 L475.2 537.7 L475.0 539.4 L474.8 540.8 L474.7 542.3 L474.5 543.4 L474.4 544.6 L474.3 545.4 L474.2 546.9 L474.1 548.4 L474.0 549.1 L474.0 551.4 L473.9 553.2 L473.8 553.8 L473.8 555.3 L473.7 557.1 L473.7 558.5 L473.6 559.5 L473.5 560.3 L473.5 560.9 L473.4 562.5 L473.4 564.4 L473.3 565.2 L473.2 567.1 L473.2 568.6 L473.1 569.7 L473.0 570.9 L473.0 571.8 L472.9 573.0 L472.9 574.6 L472.8 575.6 L472.7 576.1 L472.7 577.8 L472.6 580.3 L472.6 582.3 L472.5 583.1 L472.4 584.7 L472.4 585.5Z" fill="#344256" fill-opacity="0.27"/><path d="M472.4 582.0 L472.4 581.2 L472.5 579.9 L472.6 578.6 L472.6 577.3 L472.7 576.0 L472.7 574.7 L472.8 573.4 L472.9 572.1 L472.9 570.8 L473.0 569.5 L473.0 568.2 L473.1 566.9 L473.2 565.6 L473.2 564.3 L473.3 563.0 L473.4 561.7 L473.4 560.4 L473.5 559.1 L473.5 557.8 L473.6 556.5 L473.7 555.2 L473.7 553.9 L473.8 552.6 L473.8 551.3 L473.9 550.0 L474.0 548.7 L474.0 547.4 L474.1 546.1 L474.2 544.8 L474.3 543.5 L474.4 542.2 L474.5 540.9 L474.7 539.6 L474.8 538.3 L475.0 537.1 L475.2 535.8 L475.5 534.5 L475.7 533.2 L475.9 531.9 L476.2 530.7 L476.4 529.3 L476.7 528.1 L476.9 526.8 L477.1 525.5 L477.3 524.2 L477.5 522.9 L477.7 521.7 L477.9 520.4 L478.1 519.0 L478.3 517.8 L478.6 516.5 L478.8 515.1 L479.0 513.9 L479.3 512.8 L479.6 511.5 L479.8 510.1 L480.2 508.8 L480.5 507.8 L480.9 506.5 L481.4 505.0 L482.0 504.2 L482.8 503.2 L483.6 502.1 L484.2 501.0 L484.7 499.7 L485.1 498.4 L485.5 497.1 L485.8 495.9 L486.2 494.8 L486.6 493.4 L487.0 492.1 L487.5 490.8 L488.1 489.8 L488.9 489.0 L489.9 487.9 L490.9 487.2 L491.9 486.7 L492.8 485.9 L493.6 484.7 L494.4 483.0 L495.2 481.9 L496.0 481.3 L496.8 480.4 L497.6 479.3 L498.4 478.0 L499.2 477.1 L500.0 476.1 L500.9 475.1 L501.8 474.5 L502.8 473.8 L503.8 473.1 L504.8 472.4 L505.9 471.4 L507.0 470.3 L508.0 469.2 L509.1 468.4 L510.2 468.2 L511.4 468.0 L512.6 467.5 L513.8 467.2 L515.1 466.8 L516.4 466.0 L517.7 466.3 L519.0 466.5 L520.3 466.2 L521.6 466.4 L522.8 466.0 L524.1 465.4 L525.4 465.6 L526.7 465.4 L527.9 465.2 L529.2 465.9 L530.4 466.5 L531.6 467.2 L532.9 467.9 L534.2 467.9 L535.4 468.1 L536.7 467.9 L538.0 467.7 L539.3 467.7 L540.6 468.1 L541.9 468.1 L543.2 468.4 L544.5 468.6 L545.7 469.1 L547.0 469.3 L548.3 469.4 L549.6 469.6 L550.9 469.5 L552.2 469.6 L553.5 469.8 L554.8 469.6 L556.1 469.8 L557.4 470.2 L558.7 470.0 L560.0 470.1 L561.3 470.4 L562.6 470.1 L563.9 469.9 L565.2 469.9 L566.5 469.9 L567.8 470.2 L569.1 470.3 L570.4 470.3 L571.7 470.2 L573.0 470.4 L574.3 470.4 L575.6 470.5 L576.9 470.8 L578.2 471.0 L579.5 470.7 L580.8 470.8 L582.0 471.3 L583.3 471.4 L584.6 471.8 L585.9 471.9 L587.2 471.6 L588.5 471.1 L589.8 471.2 L591.1 471.9 L592.4 471.8 L593.7 471.2 L595.0 471.1 L596.2 471.0 L597.5 471.0 L598.8 471.1 L600.1 471.3 L601.4 471.5 L602.7 471.3 L604.0 471.5 L605.3 471.5 L606.6 471.5 L607.9 471.3 L609.2 471.1 L610.5 471.1 L611.7 470.9 L613.0 471.1 L614.3 470.9 L615.6 470.6 L616.9 470.5 L618.2 470.2 L619.5 469.6 L620.8 469.3 L622.1 469.7 L623.4 469.3 L624.7 468.9 L625.9 469.1 L627.2 469.0 L628.5 468.9 L629.8 468.8 L631.1 468.5 L632.4 469.0 L633.7 468.9 L635.0 468.1 L636.3 468.1 L637.6 468.3 L638.9 468.0 L640.1 467.7 L641.4 467.6 L642.7 467.7 L644.0 467.6" fill="none" stroke="#344256" stroke-width="5.0" stroke-linejoin="round" stroke-linecap="butt"/><line x1="458.0" x2="642.0" y1="479.18" y2="479.18" stroke="#000" stroke-width="1.3" stroke-dasharray="4.6 3.7"/></g><rect x="458.0" y="410.0" width="184.0" height="169.6" fill="none" stroke="#000" stroke-width="1.8"/><line x1="60" x2="66.0" y1="54.11" y2="54.11" stroke="#333" stroke-width="1.1"/><text x="0" y="0" font-size="15" text-anchor="end" fill="#4d4d4d" transform="translate(52.2 58.61) scale(1 1.07)">4</text><line x1="60" x2="66.0" y1="84.95" y2="84.95" stroke="#333" stroke-width="1.1"/><text x="0" y="0" font-size="15" text-anchor="end" fill="#4d4d4d" transform="translate(52.2 89.45) scale(1 1.07)">2</text><line x1="60" x2="66.0" y1="115.78" y2="115.78" stroke="#333" stroke-width="1.1"/><text x="0" y="0" font-size="15" text-anchor="end" fill="#4d4d4d" transform="translate(52.2 120.28) scale(1 1.07)">0</text><line x1="60" x2="66.0" y1="146.62" y2="146.62" stroke="#333" stroke-width="1.1"/><text x="0" y="0" font-size="15" text-anchor="end" fill="#4d4d4d" transform="translate(49.6 151.12) scale(1 1.07)">-2</text><line x1="60" x2="66.0" y1="177.45" y2="177.45" stroke="#333" stroke-width="1.1"/><text x="0" y="0" font-size="15" text-anchor="end" fill="#4d4d4d" transform="translate(49.6 181.95) scale(1 1.07)">-4</text><line x1="60" x2="66.0" y1="208.29" y2="208.29" stroke="#333" stroke-width="1.1"/><text x="0" y="0" font-size="15" text-anchor="end" fill="#4d4d4d" transform="translate(49.6 212.79) scale(1 1.07)">-6</text><line x1="60" x2="66.0" y1="235.81" y2="235.81" stroke="#333" stroke-width="1.1"/><text x="0" y="0" font-size="15" text-anchor="end" fill="#4d4d4d" transform="translate(52.2 240.31) scale(1 1.07)">4</text><line x1="60" x2="66.0" y1="266.65" y2="266.65" stroke="#333" stroke-width="1.1"/><text x="0" y="0" font-size="15" text-anchor="end" fill="#4d4d4d" transform="translate(52.2 271.15) scale(1 1.07)">2</text><line x1="60" x2="66.0" y1="297.48" y2="297.48" stroke="#333" stroke-width="1.1"/><text x="0" y="0" font-size="15" text-anchor="end" fill="#4d4d4d" transform="translate(52.2 301.98) scale(1 1.07)">0</text><line x1="60" x2="66.0" y1="328.32" y2="328.32" stroke="#333" stroke-width="1.1"/><text x="0" y="0" font-size="15" text-anchor="end" fill="#4d4d4d" transform="translate(49.6 332.82) scale(1 1.07)">-2</text><line x1="60" x2="66.0" y1="359.15" y2="359.15" stroke="#333" stroke-width="1.1"/><text x="0" y="0" font-size="15" text-anchor="end" fill="#4d4d4d" transform="translate(49.6 363.65) scale(1 1.07)">-4</text><line x1="60" x2="66.0" y1="389.99" y2="389.99" stroke="#333" stroke-width="1.1"/><text x="0" y="0" font-size="15" text-anchor="end" fill="#4d4d4d" transform="translate(49.6 394.49) scale(1 1.07)">-6</text><line x1="60" x2="66.0" y1="417.51" y2="417.51" stroke="#333" stroke-width="1.1"/><text x="0" y="0" font-size="15" text-anchor="end" fill="#4d4d4d" transform="translate(52.2 422.01) scale(1 1.07)">4</text><line x1="60" x2="66.0" y1="448.35" y2="448.35" stroke="#333" stroke-width="1.1"/><text x="0" y="0" font-size="15" text-anchor="end" fill="#4d4d4d" transform="translate(52.2 452.85) scale(1 1.07)">2</text><line x1="60" x2="66.0" y1="479.18" y2="479.18" stroke="#333" stroke-width="1.1"/><text x="0" y="0" font-size="15" text-anchor="end" fill="#4d4d4d" transform="translate(52.2 483.68) scale(1 1.07)">0</text><line x1="60" x2="66.0" y1="510.02" y2="510.02" stroke="#333" stroke-width="1.1"/><text x="0" y="0" font-size="15" text-anchor="end" fill="#4d4d4d" transform="translate(49.6 514.52) scale(1 1.07)">-2</text><line x1="60" x2="66.0" y1="540.85" y2="540.85" stroke="#333" stroke-width="1.1"/><text x="0" y="0" font-size="15" text-anchor="end" fill="#4d4d4d" transform="translate(49.6 545.35) scale(1 1.07)">-4</text><line x1="60" x2="66.0" y1="571.69" y2="571.69" stroke="#333" stroke-width="1.1"/><text x="0" y="0" font-size="15" text-anchor="end" fill="#4d4d4d" transform="translate(49.6 576.19) scale(1 1.07)">-6</text><line x1="74.36" x2="74.36" y1="579.6" y2="585.2" stroke="#333" stroke-width="1.1"/><text x="0" y="0" font-size="15" text-anchor="middle" fill="#4d4d4d" transform="translate(74.36 602.6) scale(1 1.07)">0.0</text><line x1="116.18" x2="116.18" y1="579.6" y2="585.2" stroke="#333" stroke-width="1.1"/><text x="0" y="0" font-size="15" text-anchor="middle" fill="#4d4d4d" transform="translate(116.18 602.6) scale(1 1.07)">0.5</text><line x1="158.00" x2="158.00" y1="579.6" y2="585.2" stroke="#333" stroke-width="1.1"/><text x="0" y="0" font-size="15" text-anchor="middle" fill="#4d4d4d" transform="translate(158.00 602.6) scale(1 1.07)">1.0</text><line x1="199.82" x2="199.82" y1="579.6" y2="585.2" stroke="#333" stroke-width="1.1"/><text x="0" y="0" font-size="15" text-anchor="middle" fill="#4d4d4d" transform="translate(199.82 602.6) scale(1 1.07)">1.5</text><line x1="241.64" x2="241.64" y1="579.6" y2="585.2" stroke="#333" stroke-width="1.1"/><text x="0" y="0" font-size="15" text-anchor="middle" fill="#4d4d4d" transform="translate(241.64 602.6) scale(1 1.07)">2.0</text><line x1="270.36" x2="270.36" y1="579.6" y2="585.2" stroke="#333" stroke-width="1.1"/><text x="0" y="0" font-size="15" text-anchor="middle" fill="#4d4d4d" transform="translate(270.36 602.6) scale(1 1.07)">0.0</text><line x1="312.18" x2="312.18" y1="579.6" y2="585.2" stroke="#333" stroke-width="1.1"/><text x="0" y="0" font-size="15" text-anchor="middle" fill="#4d4d4d" transform="translate(312.18 602.6) scale(1 1.07)">0.5</text><line x1="354.00" x2="354.00" y1="579.6" y2="585.2" stroke="#333" stroke-width="1.1"/><text x="0" y="0" font-size="15" text-anchor="middle" fill="#4d4d4d" transform="translate(354.00 602.6) scale(1 1.07)">1.0</text><line x1="395.82" x2="395.82" y1="579.6" y2="585.2" stroke="#333" stroke-width="1.1"/><text x="0" y="0" font-size="15" text-anchor="middle" fill="#4d4d4d" transform="translate(395.82 602.6) scale(1 1.07)">1.5</text><line x1="437.64" x2="437.64" y1="579.6" y2="585.2" stroke="#333" stroke-width="1.1"/><text x="0" y="0" font-size="15" text-anchor="middle" fill="#4d4d4d" transform="translate(437.64 602.6) scale(1 1.07)">2.0</text><line x1="466.36" x2="466.36" y1="579.6" y2="585.2" stroke="#333" stroke-width="1.1"/><text x="0" y="0" font-size="15" text-anchor="middle" fill="#4d4d4d" transform="translate(466.36 602.6) scale(1 1.07)">0.0</text><line x1="508.18" x2="508.18" y1="579.6" y2="585.2" stroke="#333" stroke-width="1.1"/><text x="0" y="0" font-size="15" text-anchor="middle" fill="#4d4d4d" transform="translate(508.18 602.6) scale(1 1.07)">0.5</text><line x1="550.00" x2="550.00" y1="579.6" y2="585.2" stroke="#333" stroke-width="1.1"/><text x="0" y="0" font-size="15" text-anchor="middle" fill="#4d4d4d" transform="translate(550.00 602.6) scale(1 1.07)">1.0</text><line x1="591.82" x2="591.82" y1="579.6" y2="585.2" stroke="#333" stroke-width="1.1"/><text x="0" y="0" font-size="15" text-anchor="middle" fill="#4d4d4d" transform="translate(591.82 602.6) scale(1 1.07)">1.5</text><line x1="633.64" x2="633.64" y1="579.6" y2="585.2" stroke="#333" stroke-width="1.1"/><text x="0" y="0" font-size="15" text-anchor="middle" fill="#4d4d4d" transform="translate(633.64 602.6) scale(1 1.07)">2.0</text><text x="352.4" y="632.7" font-size="17.3" font-weight="bold" text-anchor="middle" textLength="118.3" lengthAdjust="spacingAndGlyphs" fill="#000">Distance [mm]</text><text x="0" y="0" font-size="17.3" font-weight="bold" text-anchor="middle" textLength="301.2" lengthAdjust="spacingAndGlyphs" fill="#000" transform="translate(13.3 312.9) rotate(-90)">Difference from mean gray value [%]</text></svg></body></html>
